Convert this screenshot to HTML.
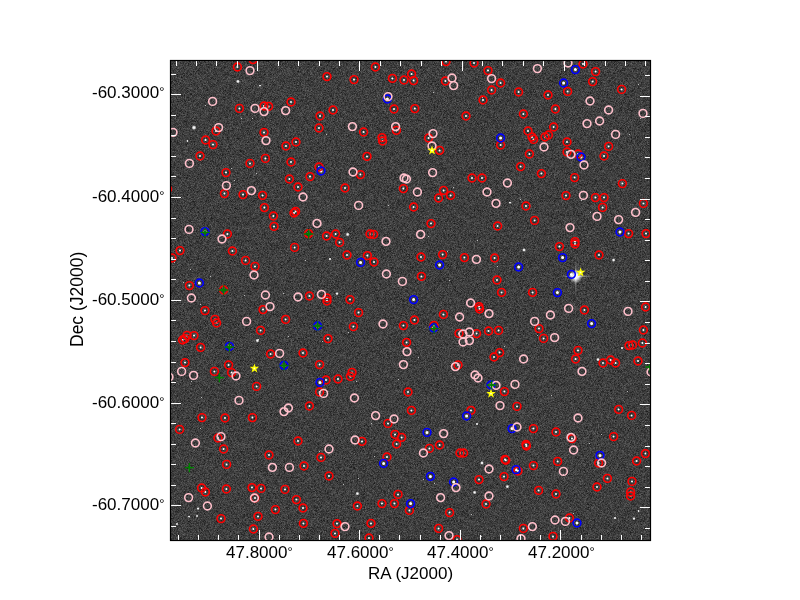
<!DOCTYPE html><html><head><meta charset="utf-8"><style>
html,body{margin:0;padding:0;background:#fff;width:800px;height:600px;overflow:hidden;}
body{position:relative;font-family:"Liberation Sans",sans-serif;color:#000;}
.d{font-size:13px;vertical-align:top;position:relative;top:1px;margin-left:0px}
.t{position:absolute;font-size:17px;line-height:1;white-space:nowrap;will-change:transform;}
svg{position:absolute;left:0;top:0;}
</style></head><body>

<svg width="800" height="600" viewBox="0 0 800 600">
<defs><filter id="nz" x="0" y="0" width="100%" height="100%" color-interpolation-filters="sRGB"><feTurbulence type="fractalNoise" baseFrequency="1.7" numOctaves="2" seed="5"/><feColorMatrix type="matrix" values="0.44 0 0 0 0.025  0.44 0 0 0 0.025  0.44 0 0 0 0.025  0 0 0 0 1"/></filter>
<radialGradient id="gl"><stop offset="0" stop-color="#fff" stop-opacity="1"/><stop offset="0.35" stop-color="#fff" stop-opacity="0.9"/><stop offset="1" stop-color="#fff" stop-opacity="0"/></radialGradient>
<linearGradient id="sh" x1="0" y1="0" x2="1" y2="0"><stop offset="0" stop-color="#fff" stop-opacity="0"/><stop offset="0.5" stop-color="#fff" stop-opacity="0.7"/><stop offset="1" stop-color="#fff" stop-opacity="0"/></linearGradient>
<linearGradient id="sv" x1="0" y1="0" x2="0" y2="1"><stop offset="0" stop-color="#fff" stop-opacity="0"/><stop offset="0.5" stop-color="#fff" stop-opacity="0.7"/><stop offset="1" stop-color="#fff" stop-opacity="0"/></linearGradient>
<clipPath id="cp"><rect x="170" y="60" width="481" height="481"/></clipPath></defs>
<rect x="170" y="60" width="481" height="481" fill="#3a3a3a"/>
<rect x="170" y="60" width="481" height="481" filter="url(#nz)"/>
<g clip-path="url(#cp)">
<rect x="326" y="134" width="1" height="1" fill="#bbb"/><rect x="482" y="97" width="1" height="1" fill="#bbb"/><rect x="428" y="236" width="1" height="1" fill="#bbb"/><rect x="200" y="304" width="1" height="1" fill="#bbb"/><rect x="190" y="269" width="1" height="1" fill="#bbb"/><rect x="205" y="105" width="1" height="1" fill="#bbb"/><rect x="374" y="456" width="1" height="1" fill="#bbb"/><rect x="231" y="168" width="1" height="1" fill="#bbb"/><rect x="471" y="514" width="1" height="1" fill="#bbb"/><rect x="447" y="251" width="1" height="1" fill="#bbb"/><rect x="638" y="84" width="1" height="1" fill="#bbb"/><rect x="581" y="200" width="1" height="1" fill="#bbb"/><rect x="241" y="118" width="1" height="1" fill="#bbb"/><rect x="319" y="451" width="1" height="1" fill="#bbb"/><rect x="258" y="339" width="1" height="1" fill="#bbb"/><rect x="477" y="240" width="1" height="1" fill="#bbb"/><rect x="433" y="92" width="1" height="1" fill="#bbb"/><rect x="200" y="160" width="1" height="1" fill="#bbb"/><rect x="497" y="266" width="1" height="1" fill="#bbb"/><rect x="322" y="341" width="1" height="1" fill="#bbb"/><rect x="388" y="205" width="1" height="1" fill="#bbb"/><rect x="551" y="395" width="1" height="1" fill="#bbb"/><rect x="288" y="336" width="1" height="1" fill="#bbb"/><rect x="423" y="479" width="1" height="1" fill="#bbb"/><rect x="520" y="199" width="1" height="1" fill="#bbb"/><rect x="640" y="118" width="1" height="1" fill="#bbb"/><rect x="371" y="423" width="1" height="1" fill="#bbb"/><rect x="244" y="295" width="1" height="1" fill="#bbb"/><rect x="191" y="381" width="1" height="1" fill="#bbb"/><rect x="537" y="335" width="1" height="1" fill="#bbb"/><rect x="590" y="212" width="1" height="1" fill="#bbb"/><rect x="504" y="346" width="1" height="1" fill="#bbb"/><rect x="449" y="280" width="1" height="1" fill="#bbb"/><rect x="573" y="513" width="1" height="1" fill="#bbb"/><rect x="398" y="379" width="1" height="1" fill="#bbb"/><rect x="201" y="397" width="1" height="1" fill="#bbb"/><rect x="481" y="536" width="1" height="1" fill="#bbb"/><rect x="564" y="198" width="1" height="1" fill="#bbb"/><rect x="356" y="381" width="1" height="1" fill="#bbb"/><rect x="183" y="282" width="1" height="1" fill="#bbb"/><rect x="252" y="118" width="1" height="1" fill="#bbb"/><rect x="200" y="428" width="1" height="1" fill="#bbb"/><rect x="234" y="180" width="1" height="1" fill="#bbb"/><rect x="358" y="478" width="1" height="1" fill="#bbb"/><rect x="210" y="276" width="1" height="1" fill="#bbb"/><rect x="434" y="483" width="1" height="1" fill="#bbb"/><rect x="563" y="474" width="1" height="1" fill="#bbb"/><rect x="305" y="260" width="1" height="1" fill="#bbb"/><rect x="343" y="484" width="1" height="1" fill="#bbb"/><rect x="629" y="134" width="1" height="1" fill="#bbb"/><rect x="256" y="173" width="1" height="1" fill="#bbb"/><rect x="283" y="293" width="1" height="1" fill="#bbb"/><rect x="453" y="187" width="1" height="1" fill="#bbb"/><rect x="174" y="262" width="1" height="1" fill="#bbb"/><rect x="348" y="332" width="1" height="1" fill="#bbb"/><rect x="627" y="391" width="1" height="1" fill="#bbb"/><rect x="418" y="357" width="1" height="1" fill="#bbb"/><rect x="495" y="88" width="1" height="1" fill="#bbb"/><rect x="601" y="434" width="1" height="1" fill="#bbb"/><rect x="589" y="443" width="1" height="1" fill="#bbb"/>
<path d="M236.4 67.0a1.0 1.0 0 1 0 2.0 0a1.0 1.0 0 1 0 -2.0 0 M252.0 59.6a1.0 1.0 0 1 0 2.0 0a1.0 1.0 0 1 0 -2.0 0 M326.0 76.6a1.0 1.0 0 1 0 2.0 0a1.0 1.0 0 1 0 -2.0 0 M238.4 108.4a1.0 1.0 0 1 0 2.0 0a1.0 1.0 0 1 0 -2.0 0 M263.0 106.0a1.0 1.0 0 1 0 2.0 0a1.0 1.0 0 1 0 -2.0 0 M267.6 106.4a1.0 1.0 0 1 0 2.0 0a1.0 1.0 0 1 0 -2.0 0 M290.0 102.0a1.0 1.0 0 1 0 2.0 0a1.0 1.0 0 1 0 -2.0 0 M319.0 116.0a1.0 1.0 0 1 0 2.0 0a1.0 1.0 0 1 0 -2.0 0 M332.0 110.0a1.0 1.0 0 1 0 2.0 0a1.0 1.0 0 1 0 -2.0 0 M318.0 128.0a1.0 1.0 0 1 0 2.0 0a1.0 1.0 0 1 0 -2.0 0 M215.0 131.0a1.0 1.0 0 1 0 2.0 0a1.0 1.0 0 1 0 -2.0 0 M204.6 140.0a1.0 1.0 0 1 0 2.0 0a1.0 1.0 0 1 0 -2.0 0 M212.0 144.6a1.0 1.0 0 1 0 2.0 0a1.0 1.0 0 1 0 -2.0 0 M263.0 132.4a1.0 1.0 0 1 0 2.0 0a1.0 1.0 0 1 0 -2.0 0 M295.0 142.0a1.0 1.0 0 1 0 2.0 0a1.0 1.0 0 1 0 -2.0 0 M285.0 146.0a1.0 1.0 0 1 0 2.0 0a1.0 1.0 0 1 0 -2.0 0 M199.0 156.0a1.0 1.0 0 1 0 2.0 0a1.0 1.0 0 1 0 -2.0 0 M264.4 158.4a1.0 1.0 0 1 0 2.0 0a1.0 1.0 0 1 0 -2.0 0 M249.0 163.4a1.0 1.0 0 1 0 2.0 0a1.0 1.0 0 1 0 -2.0 0 M290.0 162.0a1.0 1.0 0 1 0 2.0 0a1.0 1.0 0 1 0 -2.0 0 M318.0 167.0a1.0 1.0 0 1 0 2.0 0a1.0 1.0 0 1 0 -2.0 0 M225.0 172.6a1.0 1.0 0 1 0 2.0 0a1.0 1.0 0 1 0 -2.0 0 M288.4 179.0a1.0 1.0 0 1 0 2.0 0a1.0 1.0 0 1 0 -2.0 0 M309.0 176.6a1.0 1.0 0 1 0 2.0 0a1.0 1.0 0 1 0 -2.0 0 M319.5 171.0a1.5 1.5 0 1 0 3.0 0a1.5 1.5 0 1 0 -3.0 0 M374.4 67.0a1.0 1.0 0 1 0 2.0 0a1.0 1.0 0 1 0 -2.0 0 M353.0 79.6a1.0 1.0 0 1 0 2.0 0a1.0 1.0 0 1 0 -2.0 0 M391.4 78.4a1.0 1.0 0 1 0 2.0 0a1.0 1.0 0 1 0 -2.0 0 M410.6 74.0a1.0 1.0 0 1 0 2.0 0a1.0 1.0 0 1 0 -2.0 0 M403.0 80.0a1.0 1.0 0 1 0 2.0 0a1.0 1.0 0 1 0 -2.0 0 M412.6 80.6a1.0 1.0 0 1 0 2.0 0a1.0 1.0 0 1 0 -2.0 0 M445.0 61.6a1.0 1.0 0 1 0 2.0 0a1.0 1.0 0 1 0 -2.0 0 M444.4 81.0a1.0 1.0 0 1 0 2.0 0a1.0 1.0 0 1 0 -2.0 0 M473.0 63.0a1.0 1.0 0 1 0 2.0 0a1.0 1.0 0 1 0 -2.0 0 M487.0 70.6a1.0 1.0 0 1 0 2.0 0a1.0 1.0 0 1 0 -2.0 0 M482.0 100.0a1.0 1.0 0 1 0 2.0 0a1.0 1.0 0 1 0 -2.0 0 M393.0 109.0a1.0 1.0 0 1 0 2.0 0a1.0 1.0 0 1 0 -2.0 0 M413.8 108.6a1.0 1.0 0 1 0 2.0 0a1.0 1.0 0 1 0 -2.0 0 M465.0 116.0a1.0 1.0 0 1 0 2.0 0a1.0 1.0 0 1 0 -2.0 0 M362.6 132.0a1.0 1.0 0 1 0 2.0 0a1.0 1.0 0 1 0 -2.0 0 M381.0 137.6a1.0 1.0 0 1 0 2.0 0a1.0 1.0 0 1 0 -2.0 0 M381.6 141.0a1.0 1.0 0 1 0 2.0 0a1.0 1.0 0 1 0 -2.0 0 M395.4 130.4a1.0 1.0 0 1 0 2.0 0a1.0 1.0 0 1 0 -2.0 0 M427.6 138.0a1.0 1.0 0 1 0 2.0 0a1.0 1.0 0 1 0 -2.0 0 M438.6 150.4a1.0 1.0 0 1 0 2.0 0a1.0 1.0 0 1 0 -2.0 0 M366.0 156.4a1.0 1.0 0 1 0 2.0 0a1.0 1.0 0 1 0 -2.0 0 M359.4 174.6a1.0 1.0 0 1 0 2.0 0a1.0 1.0 0 1 0 -2.0 0 M471.0 178.0a1.0 1.0 0 1 0 2.0 0a1.0 1.0 0 1 0 -2.0 0 M481.0 178.0a1.0 1.0 0 1 0 2.0 0a1.0 1.0 0 1 0 -2.0 0 M385.9 99.0a1.5 1.5 0 1 0 3.0 0a1.5 1.5 0 1 0 -3.0 0 M499.6 83.0a1.0 1.0 0 1 0 2.0 0a1.0 1.0 0 1 0 -2.0 0 M490.6 90.0a1.0 1.0 0 1 0 2.0 0a1.0 1.0 0 1 0 -2.0 0 M517.6 92.0a1.0 1.0 0 1 0 2.0 0a1.0 1.0 0 1 0 -2.0 0 M547.0 95.0a1.0 1.0 0 1 0 2.0 0a1.0 1.0 0 1 0 -2.0 0 M566.6 91.4a1.0 1.0 0 1 0 2.0 0a1.0 1.0 0 1 0 -2.0 0 M582.0 64.0a1.0 1.0 0 1 0 2.0 0a1.0 1.0 0 1 0 -2.0 0 M594.6 71.6a1.0 1.0 0 1 0 2.0 0a1.0 1.0 0 1 0 -2.0 0 M591.6 81.6a1.0 1.0 0 1 0 2.0 0a1.0 1.0 0 1 0 -2.0 0 M620.6 89.4a1.0 1.0 0 1 0 2.0 0a1.0 1.0 0 1 0 -2.0 0 M554.4 109.0a1.0 1.0 0 1 0 2.0 0a1.0 1.0 0 1 0 -2.0 0 M522.4 114.0a1.0 1.0 0 1 0 2.0 0a1.0 1.0 0 1 0 -2.0 0 M552.6 127.0a1.0 1.0 0 1 0 2.0 0a1.0 1.0 0 1 0 -2.0 0 M527.0 131.0a1.0 1.0 0 1 0 2.0 0a1.0 1.0 0 1 0 -2.0 0 M531.0 137.0a1.0 1.0 0 1 0 2.0 0a1.0 1.0 0 1 0 -2.0 0 M532.6 139.4a1.0 1.0 0 1 0 2.0 0a1.0 1.0 0 1 0 -2.0 0 M544.0 137.0a1.0 1.0 0 1 0 2.0 0a1.0 1.0 0 1 0 -2.0 0 M547.4 135.0a1.0 1.0 0 1 0 2.0 0a1.0 1.0 0 1 0 -2.0 0 M566.0 142.0a1.0 1.0 0 1 0 2.0 0a1.0 1.0 0 1 0 -2.0 0 M499.6 145.0a1.0 1.0 0 1 0 2.0 0a1.0 1.0 0 1 0 -2.0 0 M607.6 146.4a1.0 1.0 0 1 0 2.0 0a1.0 1.0 0 1 0 -2.0 0 M528.4 154.0a1.0 1.0 0 1 0 2.0 0a1.0 1.0 0 1 0 -2.0 0 M566.0 152.0a1.0 1.0 0 1 0 2.0 0a1.0 1.0 0 1 0 -2.0 0 M577.0 154.0a1.0 1.0 0 1 0 2.0 0a1.0 1.0 0 1 0 -2.0 0 M603.0 156.0a1.0 1.0 0 1 0 2.0 0a1.0 1.0 0 1 0 -2.0 0 M519.6 166.6a1.0 1.0 0 1 0 2.0 0a1.0 1.0 0 1 0 -2.0 0 M540.4 173.6a1.0 1.0 0 1 0 2.0 0a1.0 1.0 0 1 0 -2.0 0 M573.6 177.6a1.0 1.0 0 1 0 2.0 0a1.0 1.0 0 1 0 -2.0 0 M573.9 69.6a1.5 1.5 0 1 0 3.0 0a1.5 1.5 0 1 0 -3.0 0 M562.1 83.0a1.5 1.5 0 1 0 3.0 0a1.5 1.5 0 1 0 -3.0 0 M499.1 138.0a1.5 1.5 0 1 0 3.0 0a1.5 1.5 0 1 0 -3.0 0 M579.5 157.0a1.5 1.5 0 1 0 3.0 0a1.5 1.5 0 1 0 -3.0 0 M223.4 193.6a1.0 1.0 0 1 0 2.0 0a1.0 1.0 0 1 0 -2.0 0 M242.0 194.6a1.0 1.0 0 1 0 2.0 0a1.0 1.0 0 1 0 -2.0 0 M261.6 195.4a1.0 1.0 0 1 0 2.0 0a1.0 1.0 0 1 0 -2.0 0 M297.0 187.0a1.0 1.0 0 1 0 2.0 0a1.0 1.0 0 1 0 -2.0 0 M263.4 207.6a1.0 1.0 0 1 0 2.0 0a1.0 1.0 0 1 0 -2.0 0 M272.4 216.0a1.0 1.0 0 1 0 2.0 0a1.0 1.0 0 1 0 -2.0 0 M273.0 226.4a1.0 1.0 0 1 0 2.0 0a1.0 1.0 0 1 0 -2.0 0 M293.0 213.0a1.0 1.0 0 1 0 2.0 0a1.0 1.0 0 1 0 -2.0 0 M294.6 211.4a1.0 1.0 0 1 0 2.0 0a1.0 1.0 0 1 0 -2.0 0 M226.4 234.0a1.0 1.0 0 1 0 2.0 0a1.0 1.0 0 1 0 -2.0 0 M307.6 233.6a1.0 1.0 0 1 0 2.0 0a1.0 1.0 0 1 0 -2.0 0 M325.6 236.0a1.0 1.0 0 1 0 2.0 0a1.0 1.0 0 1 0 -2.0 0 M179.0 250.6a1.0 1.0 0 1 0 2.0 0a1.0 1.0 0 1 0 -2.0 0 M171.0 258.0a1.0 1.0 0 1 0 2.0 0a1.0 1.0 0 1 0 -2.0 0 M231.4 251.0a1.0 1.0 0 1 0 2.0 0a1.0 1.0 0 1 0 -2.0 0 M293.6 247.4a1.0 1.0 0 1 0 2.0 0a1.0 1.0 0 1 0 -2.0 0 M244.6 260.4a1.0 1.0 0 1 0 2.0 0a1.0 1.0 0 1 0 -2.0 0 M254.0 266.4a1.0 1.0 0 1 0 2.0 0a1.0 1.0 0 1 0 -2.0 0 M188.4 285.6a1.0 1.0 0 1 0 2.0 0a1.0 1.0 0 1 0 -2.0 0 M222.6 290.0a1.0 1.0 0 1 0 2.0 0a1.0 1.0 0 1 0 -2.0 0 M308.4 296.0a1.0 1.0 0 1 0 2.0 0a1.0 1.0 0 1 0 -2.0 0 M326.0 298.0a1.0 1.0 0 1 0 2.0 0a1.0 1.0 0 1 0 -2.0 0 M166.6 189.0a1.0 1.0 0 1 0 2.0 0a1.0 1.0 0 1 0 -2.0 0 M203.5 231.6a1.5 1.5 0 1 0 3.0 0a1.5 1.5 0 1 0 -3.0 0 M197.9 283.0a1.5 1.5 0 1 0 3.0 0a1.5 1.5 0 1 0 -3.0 0 M344.0 188.0a1.0 1.0 0 1 0 2.0 0a1.0 1.0 0 1 0 -2.0 0 M402.4 188.6a1.0 1.0 0 1 0 2.0 0a1.0 1.0 0 1 0 -2.0 0 M442.6 190.4a1.0 1.0 0 1 0 2.0 0a1.0 1.0 0 1 0 -2.0 0 M449.6 195.4a1.0 1.0 0 1 0 2.0 0a1.0 1.0 0 1 0 -2.0 0 M437.6 198.0a1.0 1.0 0 1 0 2.0 0a1.0 1.0 0 1 0 -2.0 0 M412.6 207.0a1.0 1.0 0 1 0 2.0 0a1.0 1.0 0 1 0 -2.0 0 M430.0 223.6a1.0 1.0 0 1 0 2.0 0a1.0 1.0 0 1 0 -2.0 0 M334.6 234.0a1.0 1.0 0 1 0 2.0 0a1.0 1.0 0 1 0 -2.0 0 M369.0 234.0a1.0 1.0 0 1 0 2.0 0a1.0 1.0 0 1 0 -2.0 0 M372.6 234.4a1.0 1.0 0 1 0 2.0 0a1.0 1.0 0 1 0 -2.0 0 M338.6 242.4a1.0 1.0 0 1 0 2.0 0a1.0 1.0 0 1 0 -2.0 0 M346.0 255.0a1.0 1.0 0 1 0 2.0 0a1.0 1.0 0 1 0 -2.0 0 M366.4 255.6a1.0 1.0 0 1 0 2.0 0a1.0 1.0 0 1 0 -2.0 0 M373.0 262.0a1.0 1.0 0 1 0 2.0 0a1.0 1.0 0 1 0 -2.0 0 M420.0 257.0a1.0 1.0 0 1 0 2.0 0a1.0 1.0 0 1 0 -2.0 0 M441.6 254.6a1.0 1.0 0 1 0 2.0 0a1.0 1.0 0 1 0 -2.0 0 M463.4 257.6a1.0 1.0 0 1 0 2.0 0a1.0 1.0 0 1 0 -2.0 0 M420.4 276.4a1.0 1.0 0 1 0 2.0 0a1.0 1.0 0 1 0 -2.0 0 M349.0 299.6a1.0 1.0 0 1 0 2.0 0a1.0 1.0 0 1 0 -2.0 0 M359.1 262.4a1.5 1.5 0 1 0 3.0 0a1.5 1.5 0 1 0 -3.0 0 M438.1 265.0a1.5 1.5 0 1 0 3.0 0a1.5 1.5 0 1 0 -3.0 0 M412.1 299.6a1.5 1.5 0 1 0 3.0 0a1.5 1.5 0 1 0 -3.0 0 M621.4 183.6a1.0 1.0 0 1 0 2.0 0a1.0 1.0 0 1 0 -2.0 0 M565.0 195.6a1.0 1.0 0 1 0 2.0 0a1.0 1.0 0 1 0 -2.0 0 M594.4 197.6a1.0 1.0 0 1 0 2.0 0a1.0 1.0 0 1 0 -2.0 0 M603.0 197.6a1.0 1.0 0 1 0 2.0 0a1.0 1.0 0 1 0 -2.0 0 M601.6 207.4a1.0 1.0 0 1 0 2.0 0a1.0 1.0 0 1 0 -2.0 0 M642.4 203.4a1.0 1.0 0 1 0 2.0 0a1.0 1.0 0 1 0 -2.0 0 M525.0 206.0a1.0 1.0 0 1 0 2.0 0a1.0 1.0 0 1 0 -2.0 0 M533.6 220.4a1.0 1.0 0 1 0 2.0 0a1.0 1.0 0 1 0 -2.0 0 M496.6 226.0a1.0 1.0 0 1 0 2.0 0a1.0 1.0 0 1 0 -2.0 0 M627.6 233.6a1.0 1.0 0 1 0 2.0 0a1.0 1.0 0 1 0 -2.0 0 M645.0 233.6a1.0 1.0 0 1 0 2.0 0a1.0 1.0 0 1 0 -2.0 0 M574.0 241.6a1.0 1.0 0 1 0 2.0 0a1.0 1.0 0 1 0 -2.0 0 M574.0 244.0a1.0 1.0 0 1 0 2.0 0a1.0 1.0 0 1 0 -2.0 0 M558.4 246.6a1.0 1.0 0 1 0 2.0 0a1.0 1.0 0 1 0 -2.0 0 M598.0 255.0a1.0 1.0 0 1 0 2.0 0a1.0 1.0 0 1 0 -2.0 0 M493.6 258.0a1.0 1.0 0 1 0 2.0 0a1.0 1.0 0 1 0 -2.0 0 M496.0 280.0a1.0 1.0 0 1 0 2.0 0a1.0 1.0 0 1 0 -2.0 0 M500.6 292.4a1.0 1.0 0 1 0 2.0 0a1.0 1.0 0 1 0 -2.0 0 M531.6 292.4a1.0 1.0 0 1 0 2.0 0a1.0 1.0 0 1 0 -2.0 0 M618.5 232.0a1.5 1.5 0 1 0 3.0 0a1.5 1.5 0 1 0 -3.0 0 M561.1 257.6a1.5 1.5 0 1 0 3.0 0a1.5 1.5 0 1 0 -3.0 0 M517.1 267.0a1.5 1.5 0 1 0 3.0 0a1.5 1.5 0 1 0 -3.0 0 M569.9 274.4a1.5 1.5 0 1 0 3.0 0a1.5 1.5 0 1 0 -3.0 0 M555.9 292.6a1.5 1.5 0 1 0 3.0 0a1.5 1.5 0 1 0 -3.0 0 M204.0 310.6a1.0 1.0 0 1 0 2.0 0a1.0 1.0 0 1 0 -2.0 0 M214.0 319.4a1.0 1.0 0 1 0 2.0 0a1.0 1.0 0 1 0 -2.0 0 M215.6 323.0a1.0 1.0 0 1 0 2.0 0a1.0 1.0 0 1 0 -2.0 0 M262.0 309.6a1.0 1.0 0 1 0 2.0 0a1.0 1.0 0 1 0 -2.0 0 M284.6 319.4a1.0 1.0 0 1 0 2.0 0a1.0 1.0 0 1 0 -2.0 0 M259.6 330.4a1.0 1.0 0 1 0 2.0 0a1.0 1.0 0 1 0 -2.0 0 M193.0 335.6a1.0 1.0 0 1 0 2.0 0a1.0 1.0 0 1 0 -2.0 0 M186.0 335.4a1.0 1.0 0 1 0 2.0 0a1.0 1.0 0 1 0 -2.0 0 M184.0 338.6a1.0 1.0 0 1 0 2.0 0a1.0 1.0 0 1 0 -2.0 0 M181.6 340.0a1.0 1.0 0 1 0 2.0 0a1.0 1.0 0 1 0 -2.0 0 M199.6 347.4a1.0 1.0 0 1 0 2.0 0a1.0 1.0 0 1 0 -2.0 0 M327.0 338.6a1.0 1.0 0 1 0 2.0 0a1.0 1.0 0 1 0 -2.0 0 M269.6 354.0a1.0 1.0 0 1 0 2.0 0a1.0 1.0 0 1 0 -2.0 0 M302.0 353.0a1.0 1.0 0 1 0 2.0 0a1.0 1.0 0 1 0 -2.0 0 M184.0 362.6a1.0 1.0 0 1 0 2.0 0a1.0 1.0 0 1 0 -2.0 0 M227.6 365.0a1.0 1.0 0 1 0 2.0 0a1.0 1.0 0 1 0 -2.0 0 M213.4 371.4a1.0 1.0 0 1 0 2.0 0a1.0 1.0 0 1 0 -2.0 0 M230.6 372.6a1.0 1.0 0 1 0 2.0 0a1.0 1.0 0 1 0 -2.0 0 M318.6 364.6a1.0 1.0 0 1 0 2.0 0a1.0 1.0 0 1 0 -2.0 0 M325.0 380.0a1.0 1.0 0 1 0 2.0 0a1.0 1.0 0 1 0 -2.0 0 M255.6 386.4a1.0 1.0 0 1 0 2.0 0a1.0 1.0 0 1 0 -2.0 0 M318.6 392.0a1.0 1.0 0 1 0 2.0 0a1.0 1.0 0 1 0 -2.0 0 M308.4 406.0a1.0 1.0 0 1 0 2.0 0a1.0 1.0 0 1 0 -2.0 0 M201.0 417.6a1.0 1.0 0 1 0 2.0 0a1.0 1.0 0 1 0 -2.0 0 M224.0 418.0a1.0 1.0 0 1 0 2.0 0a1.0 1.0 0 1 0 -2.0 0 M251.4 417.6a1.0 1.0 0 1 0 2.0 0a1.0 1.0 0 1 0 -2.0 0 M326.0 301.0a1.0 1.0 0 1 0 2.0 0a1.0 1.0 0 1 0 -2.0 0 M227.9 346.4a1.5 1.5 0 1 0 3.0 0a1.5 1.5 0 1 0 -3.0 0 M282.5 365.4a1.5 1.5 0 1 0 3.0 0a1.5 1.5 0 1 0 -3.0 0 M316.1 326.0a1.5 1.5 0 1 0 3.0 0a1.5 1.5 0 1 0 -3.0 0 M318.5 382.4a1.5 1.5 0 1 0 3.0 0a1.5 1.5 0 1 0 -3.0 0 M357.6 312.6a1.0 1.0 0 1 0 2.0 0a1.0 1.0 0 1 0 -2.0 0 M352.4 326.6a1.0 1.0 0 1 0 2.0 0a1.0 1.0 0 1 0 -2.0 0 M402.4 325.6a1.0 1.0 0 1 0 2.0 0a1.0 1.0 0 1 0 -2.0 0 M413.4 320.0a1.0 1.0 0 1 0 2.0 0a1.0 1.0 0 1 0 -2.0 0 M442.4 314.4a1.0 1.0 0 1 0 2.0 0a1.0 1.0 0 1 0 -2.0 0 M433.0 325.4a1.0 1.0 0 1 0 2.0 0a1.0 1.0 0 1 0 -2.0 0 M478.0 306.6a1.0 1.0 0 1 0 2.0 0a1.0 1.0 0 1 0 -2.0 0 M478.6 309.0a1.0 1.0 0 1 0 2.0 0a1.0 1.0 0 1 0 -2.0 0 M475.6 333.6a1.0 1.0 0 1 0 2.0 0a1.0 1.0 0 1 0 -2.0 0 M487.6 331.0a1.0 1.0 0 1 0 2.0 0a1.0 1.0 0 1 0 -2.0 0 M458.0 333.4a1.0 1.0 0 1 0 2.0 0a1.0 1.0 0 1 0 -2.0 0 M405.6 342.4a1.0 1.0 0 1 0 2.0 0a1.0 1.0 0 1 0 -2.0 0 M457.0 365.0a1.0 1.0 0 1 0 2.0 0a1.0 1.0 0 1 0 -2.0 0 M351.0 372.4a1.0 1.0 0 1 0 2.0 0a1.0 1.0 0 1 0 -2.0 0 M349.4 376.4a1.0 1.0 0 1 0 2.0 0a1.0 1.0 0 1 0 -2.0 0 M337.0 379.0a1.0 1.0 0 1 0 2.0 0a1.0 1.0 0 1 0 -2.0 0 M407.0 392.0a1.0 1.0 0 1 0 2.0 0a1.0 1.0 0 1 0 -2.0 0 M410.4 410.4a1.0 1.0 0 1 0 2.0 0a1.0 1.0 0 1 0 -2.0 0 M470.0 410.4a1.0 1.0 0 1 0 2.0 0a1.0 1.0 0 1 0 -2.0 0 M432.1 328.0a1.5 1.5 0 1 0 3.0 0a1.5 1.5 0 1 0 -3.0 0 M465.1 416.0a1.5 1.5 0 1 0 3.0 0a1.5 1.5 0 1 0 -3.0 0 M583.4 310.0a1.0 1.0 0 1 0 2.0 0a1.0 1.0 0 1 0 -2.0 0 M644.6 307.0a1.0 1.0 0 1 0 2.0 0a1.0 1.0 0 1 0 -2.0 0 M497.6 330.4a1.0 1.0 0 1 0 2.0 0a1.0 1.0 0 1 0 -2.0 0 M538.0 328.6a1.0 1.0 0 1 0 2.0 0a1.0 1.0 0 1 0 -2.0 0 M542.6 338.4a1.0 1.0 0 1 0 2.0 0a1.0 1.0 0 1 0 -2.0 0 M642.4 330.0a1.0 1.0 0 1 0 2.0 0a1.0 1.0 0 1 0 -2.0 0 M628.0 345.6a1.0 1.0 0 1 0 2.0 0a1.0 1.0 0 1 0 -2.0 0 M631.6 345.0a1.0 1.0 0 1 0 2.0 0a1.0 1.0 0 1 0 -2.0 0 M641.4 343.0a1.0 1.0 0 1 0 2.0 0a1.0 1.0 0 1 0 -2.0 0 M498.6 352.6a1.0 1.0 0 1 0 2.0 0a1.0 1.0 0 1 0 -2.0 0 M493.0 357.0a1.0 1.0 0 1 0 2.0 0a1.0 1.0 0 1 0 -2.0 0 M577.0 350.4a1.0 1.0 0 1 0 2.0 0a1.0 1.0 0 1 0 -2.0 0 M574.6 359.0a1.0 1.0 0 1 0 2.0 0a1.0 1.0 0 1 0 -2.0 0 M602.0 363.0a1.0 1.0 0 1 0 2.0 0a1.0 1.0 0 1 0 -2.0 0 M609.6 360.0a1.0 1.0 0 1 0 2.0 0a1.0 1.0 0 1 0 -2.0 0 M614.6 363.0a1.0 1.0 0 1 0 2.0 0a1.0 1.0 0 1 0 -2.0 0 M637.0 361.0a1.0 1.0 0 1 0 2.0 0a1.0 1.0 0 1 0 -2.0 0 M503.4 391.6a1.0 1.0 0 1 0 2.0 0a1.0 1.0 0 1 0 -2.0 0 M516.0 406.4a1.0 1.0 0 1 0 2.0 0a1.0 1.0 0 1 0 -2.0 0 M617.6 409.4a1.0 1.0 0 1 0 2.0 0a1.0 1.0 0 1 0 -2.0 0 M630.6 415.4a1.0 1.0 0 1 0 2.0 0a1.0 1.0 0 1 0 -2.0 0 M590.1 323.6a1.5 1.5 0 1 0 3.0 0a1.5 1.5 0 1 0 -3.0 0 M489.5 385.0a1.5 1.5 0 1 0 3.0 0a1.5 1.5 0 1 0 -3.0 0 M178.6 429.4a1.0 1.0 0 1 0 2.0 0a1.0 1.0 0 1 0 -2.0 0 M217.0 438.0a1.0 1.0 0 1 0 2.0 0a1.0 1.0 0 1 0 -2.0 0 M222.6 449.0a1.0 1.0 0 1 0 2.0 0a1.0 1.0 0 1 0 -2.0 0 M297.0 441.0a1.0 1.0 0 1 0 2.0 0a1.0 1.0 0 1 0 -2.0 0 M268.0 455.0a1.0 1.0 0 1 0 2.0 0a1.0 1.0 0 1 0 -2.0 0 M320.0 457.4a1.0 1.0 0 1 0 2.0 0a1.0 1.0 0 1 0 -2.0 0 M225.6 464.4a1.0 1.0 0 1 0 2.0 0a1.0 1.0 0 1 0 -2.0 0 M303.0 466.0a1.0 1.0 0 1 0 2.0 0a1.0 1.0 0 1 0 -2.0 0 M328.0 476.0a1.0 1.0 0 1 0 2.0 0a1.0 1.0 0 1 0 -2.0 0 M200.6 488.0a1.0 1.0 0 1 0 2.0 0a1.0 1.0 0 1 0 -2.0 0 M204.4 492.0a1.0 1.0 0 1 0 2.0 0a1.0 1.0 0 1 0 -2.0 0 M225.4 489.0a1.0 1.0 0 1 0 2.0 0a1.0 1.0 0 1 0 -2.0 0 M251.0 487.6a1.0 1.0 0 1 0 2.0 0a1.0 1.0 0 1 0 -2.0 0 M260.0 488.4a1.0 1.0 0 1 0 2.0 0a1.0 1.0 0 1 0 -2.0 0 M284.0 489.4a1.0 1.0 0 1 0 2.0 0a1.0 1.0 0 1 0 -2.0 0 M254.0 498.0a1.0 1.0 0 1 0 2.0 0a1.0 1.0 0 1 0 -2.0 0 M295.4 499.6a1.0 1.0 0 1 0 2.0 0a1.0 1.0 0 1 0 -2.0 0 M302.0 508.0a1.0 1.0 0 1 0 2.0 0a1.0 1.0 0 1 0 -2.0 0 M274.4 509.6a1.0 1.0 0 1 0 2.0 0a1.0 1.0 0 1 0 -2.0 0 M257.0 516.4a1.0 1.0 0 1 0 2.0 0a1.0 1.0 0 1 0 -2.0 0 M220.0 518.6a1.0 1.0 0 1 0 2.0 0a1.0 1.0 0 1 0 -2.0 0 M302.4 523.4a1.0 1.0 0 1 0 2.0 0a1.0 1.0 0 1 0 -2.0 0 M252.4 529.0a1.0 1.0 0 1 0 2.0 0a1.0 1.0 0 1 0 -2.0 0 M387.0 423.4a1.0 1.0 0 1 0 2.0 0a1.0 1.0 0 1 0 -2.0 0 M394.0 434.4a1.0 1.0 0 1 0 2.0 0a1.0 1.0 0 1 0 -2.0 0 M400.6 437.4a1.0 1.0 0 1 0 2.0 0a1.0 1.0 0 1 0 -2.0 0 M395.6 444.0a1.0 1.0 0 1 0 2.0 0a1.0 1.0 0 1 0 -2.0 0 M361.0 441.4a1.0 1.0 0 1 0 2.0 0a1.0 1.0 0 1 0 -2.0 0 M428.4 448.4a1.0 1.0 0 1 0 2.0 0a1.0 1.0 0 1 0 -2.0 0 M438.6 445.0a1.0 1.0 0 1 0 2.0 0a1.0 1.0 0 1 0 -2.0 0 M459.0 453.0a1.0 1.0 0 1 0 2.0 0a1.0 1.0 0 1 0 -2.0 0 M462.6 453.0a1.0 1.0 0 1 0 2.0 0a1.0 1.0 0 1 0 -2.0 0 M386.0 457.0a1.0 1.0 0 1 0 2.0 0a1.0 1.0 0 1 0 -2.0 0 M478.0 479.6a1.0 1.0 0 1 0 2.0 0a1.0 1.0 0 1 0 -2.0 0 M397.0 494.4a1.0 1.0 0 1 0 2.0 0a1.0 1.0 0 1 0 -2.0 0 M381.0 503.6a1.0 1.0 0 1 0 2.0 0a1.0 1.0 0 1 0 -2.0 0 M393.4 503.6a1.0 1.0 0 1 0 2.0 0a1.0 1.0 0 1 0 -2.0 0 M356.4 506.0a1.0 1.0 0 1 0 2.0 0a1.0 1.0 0 1 0 -2.0 0 M408.4 510.4a1.0 1.0 0 1 0 2.0 0a1.0 1.0 0 1 0 -2.0 0 M448.6 512.6a1.0 1.0 0 1 0 2.0 0a1.0 1.0 0 1 0 -2.0 0 M485.0 504.0a1.0 1.0 0 1 0 2.0 0a1.0 1.0 0 1 0 -2.0 0 M336.0 523.6a1.0 1.0 0 1 0 2.0 0a1.0 1.0 0 1 0 -2.0 0 M370.0 523.4a1.0 1.0 0 1 0 2.0 0a1.0 1.0 0 1 0 -2.0 0 M334.0 533.4a1.0 1.0 0 1 0 2.0 0a1.0 1.0 0 1 0 -2.0 0 M437.6 528.4a1.0 1.0 0 1 0 2.0 0a1.0 1.0 0 1 0 -2.0 0 M368.0 538.0a1.0 1.0 0 1 0 2.0 0a1.0 1.0 0 1 0 -2.0 0 M456.0 539.6a1.0 1.0 0 1 0 2.0 0a1.0 1.0 0 1 0 -2.0 0 M425.5 432.4a1.5 1.5 0 1 0 3.0 0a1.5 1.5 0 1 0 -3.0 0 M382.1 463.4a1.5 1.5 0 1 0 3.0 0a1.5 1.5 0 1 0 -3.0 0 M428.9 476.4a1.5 1.5 0 1 0 3.0 0a1.5 1.5 0 1 0 -3.0 0 M452.1 482.0a1.5 1.5 0 1 0 3.0 0a1.5 1.5 0 1 0 -3.0 0 M409.1 503.6a1.5 1.5 0 1 0 3.0 0a1.5 1.5 0 1 0 -3.0 0 M532.4 428.6a1.0 1.0 0 1 0 2.0 0a1.0 1.0 0 1 0 -2.0 0 M555.0 432.0a1.0 1.0 0 1 0 2.0 0a1.0 1.0 0 1 0 -2.0 0 M571.0 438.6a1.0 1.0 0 1 0 2.0 0a1.0 1.0 0 1 0 -2.0 0 M612.6 436.6a1.0 1.0 0 1 0 2.0 0a1.0 1.0 0 1 0 -2.0 0 M525.0 444.4a1.0 1.0 0 1 0 2.0 0a1.0 1.0 0 1 0 -2.0 0 M525.4 446.0a1.0 1.0 0 1 0 2.0 0a1.0 1.0 0 1 0 -2.0 0 M504.0 459.4a1.0 1.0 0 1 0 2.0 0a1.0 1.0 0 1 0 -2.0 0 M504.8 460.2a1.0 1.0 0 1 0 2.0 0a1.0 1.0 0 1 0 -2.0 0 M532.4 465.6a1.0 1.0 0 1 0 2.0 0a1.0 1.0 0 1 0 -2.0 0 M556.6 461.4a1.0 1.0 0 1 0 2.0 0a1.0 1.0 0 1 0 -2.0 0 M597.6 463.0a1.0 1.0 0 1 0 2.0 0a1.0 1.0 0 1 0 -2.0 0 M635.6 461.0a1.0 1.0 0 1 0 2.0 0a1.0 1.0 0 1 0 -2.0 0 M644.4 453.6a1.0 1.0 0 1 0 2.0 0a1.0 1.0 0 1 0 -2.0 0 M517.0 471.0a1.0 1.0 0 1 0 2.0 0a1.0 1.0 0 1 0 -2.0 0 M503.0 476.6a1.0 1.0 0 1 0 2.0 0a1.0 1.0 0 1 0 -2.0 0 M606.4 478.4a1.0 1.0 0 1 0 2.0 0a1.0 1.0 0 1 0 -2.0 0 M596.0 487.0a1.0 1.0 0 1 0 2.0 0a1.0 1.0 0 1 0 -2.0 0 M631.0 481.4a1.0 1.0 0 1 0 2.0 0a1.0 1.0 0 1 0 -2.0 0 M537.6 490.4a1.0 1.0 0 1 0 2.0 0a1.0 1.0 0 1 0 -2.0 0 M555.0 494.0a1.0 1.0 0 1 0 2.0 0a1.0 1.0 0 1 0 -2.0 0 M629.6 492.0a1.0 1.0 0 1 0 2.0 0a1.0 1.0 0 1 0 -2.0 0 M629.6 496.0a1.0 1.0 0 1 0 2.0 0a1.0 1.0 0 1 0 -2.0 0 M568.4 518.0a1.0 1.0 0 1 0 2.0 0a1.0 1.0 0 1 0 -2.0 0 M522.4 528.4a1.0 1.0 0 1 0 2.0 0a1.0 1.0 0 1 0 -2.0 0 M552.0 536.4a1.0 1.0 0 1 0 2.0 0a1.0 1.0 0 1 0 -2.0 0 M510.5 428.6a1.5 1.5 0 1 0 3.0 0a1.5 1.5 0 1 0 -3.0 0 M514.5 469.6a1.5 1.5 0 1 0 3.0 0a1.5 1.5 0 1 0 -3.0 0 M598.5 455.4a1.5 1.5 0 1 0 3.0 0a1.5 1.5 0 1 0 -3.0 0 M575.5 523.0a1.5 1.5 0 1 0 3.0 0a1.5 1.5 0 1 0 -3.0 0" fill="#fff"/>
<circle cx="238" cy="81.4" r="2.1" fill="url(#gl)"/>
<circle cx="194" cy="127.6" r="2.6" fill="url(#gl)"/>
<circle cx="260" cy="85.6" r="1.3" fill="url(#gl)"/>
<circle cx="187.4" cy="141" r="1.3" fill="url(#gl)"/>
<circle cx="347.6" cy="234.4" r="2.1" fill="url(#gl)"/>
<circle cx="337" cy="293.6" r="1.7" fill="url(#gl)"/>
<circle cx="330" cy="259" r="1.6" fill="url(#gl)"/>
<circle cx="524" cy="250" r="2.0" fill="url(#gl)"/>
<circle cx="613.6" cy="260" r="2.0" fill="url(#gl)"/>
<circle cx="510" cy="202.6" r="1.4" fill="url(#gl)"/>
<circle cx="257.4" cy="340.6" r="2.1" fill="url(#gl)"/>
<circle cx="598" cy="359.6" r="2.0" fill="url(#gl)"/>
<circle cx="622" cy="348" r="1.6" fill="url(#gl)"/>
<circle cx="357.4" cy="493.6" r="2.0" fill="url(#gl)"/>
<circle cx="474.6" cy="492.4" r="2.0" fill="url(#gl)"/>
<circle cx="482" cy="463" r="2.0" fill="url(#gl)"/>
<circle cx="477" cy="424" r="1.6" fill="url(#gl)"/>
<circle cx="507.4" cy="486.6" r="2.0" fill="url(#gl)"/>
<circle cx="615" cy="518" r="1.6" fill="url(#gl)"/>
<circle cx="634" cy="518.6" r="1.7" fill="url(#gl)"/>
<circle cx="638.6" cy="511" r="1.3" fill="url(#gl)"/>
<circle cx="198" cy="508.6" r="1.6" fill="url(#gl)"/>
<circle cx="197" cy="516" r="1.3" fill="url(#gl)"/>
<circle cx="189" cy="516.6" r="1.3" fill="url(#gl)"/>
<circle cx="177" cy="524" r="1.3" fill="url(#gl)"/>
<rect x="558.8" y="275.7" width="34" height="1.2" fill="url(#sh)"/>
<rect x="575.1999999999999" y="260.3" width="1.2" height="32" fill="url(#sv)"/>
<circle cx="575.8" cy="276.3" r="7" fill="url(#gl)"/>
<path d="M233.5 67.0a3.9 3.9 0 1 0 7.8 0a3.9 3.9 0 1 0 -7.8 0 M249.1 59.6a3.9 3.9 0 1 0 7.8 0a3.9 3.9 0 1 0 -7.8 0 M323.1 76.6a3.9 3.9 0 1 0 7.8 0a3.9 3.9 0 1 0 -7.8 0 M235.5 108.4a3.9 3.9 0 1 0 7.8 0a3.9 3.9 0 1 0 -7.8 0 M260.1 106.0a3.9 3.9 0 1 0 7.8 0a3.9 3.9 0 1 0 -7.8 0 M264.7 106.4a3.9 3.9 0 1 0 7.8 0a3.9 3.9 0 1 0 -7.8 0 M287.1 102.0a3.9 3.9 0 1 0 7.8 0a3.9 3.9 0 1 0 -7.8 0 M316.1 116.0a3.9 3.9 0 1 0 7.8 0a3.9 3.9 0 1 0 -7.8 0 M329.1 110.0a3.9 3.9 0 1 0 7.8 0a3.9 3.9 0 1 0 -7.8 0 M315.1 128.0a3.9 3.9 0 1 0 7.8 0a3.9 3.9 0 1 0 -7.8 0 M212.1 131.0a3.9 3.9 0 1 0 7.8 0a3.9 3.9 0 1 0 -7.8 0 M201.7 140.0a3.9 3.9 0 1 0 7.8 0a3.9 3.9 0 1 0 -7.8 0 M209.1 144.6a3.9 3.9 0 1 0 7.8 0a3.9 3.9 0 1 0 -7.8 0 M260.1 132.4a3.9 3.9 0 1 0 7.8 0a3.9 3.9 0 1 0 -7.8 0 M292.1 142.0a3.9 3.9 0 1 0 7.8 0a3.9 3.9 0 1 0 -7.8 0 M282.1 146.0a3.9 3.9 0 1 0 7.8 0a3.9 3.9 0 1 0 -7.8 0 M196.1 156.0a3.9 3.9 0 1 0 7.8 0a3.9 3.9 0 1 0 -7.8 0 M261.5 158.4a3.9 3.9 0 1 0 7.8 0a3.9 3.9 0 1 0 -7.8 0 M246.1 163.4a3.9 3.9 0 1 0 7.8 0a3.9 3.9 0 1 0 -7.8 0 M287.1 162.0a3.9 3.9 0 1 0 7.8 0a3.9 3.9 0 1 0 -7.8 0 M315.1 167.0a3.9 3.9 0 1 0 7.8 0a3.9 3.9 0 1 0 -7.8 0 M222.1 172.6a3.9 3.9 0 1 0 7.8 0a3.9 3.9 0 1 0 -7.8 0 M285.5 179.0a3.9 3.9 0 1 0 7.8 0a3.9 3.9 0 1 0 -7.8 0 M306.1 176.6a3.9 3.9 0 1 0 7.8 0a3.9 3.9 0 1 0 -7.8 0 M371.5 67.0a3.9 3.9 0 1 0 7.8 0a3.9 3.9 0 1 0 -7.8 0 M350.1 79.6a3.9 3.9 0 1 0 7.8 0a3.9 3.9 0 1 0 -7.8 0 M388.5 78.4a3.9 3.9 0 1 0 7.8 0a3.9 3.9 0 1 0 -7.8 0 M407.7 74.0a3.9 3.9 0 1 0 7.8 0a3.9 3.9 0 1 0 -7.8 0 M400.1 80.0a3.9 3.9 0 1 0 7.8 0a3.9 3.9 0 1 0 -7.8 0 M409.7 80.6a3.9 3.9 0 1 0 7.8 0a3.9 3.9 0 1 0 -7.8 0 M442.1 61.6a3.9 3.9 0 1 0 7.8 0a3.9 3.9 0 1 0 -7.8 0 M441.5 81.0a3.9 3.9 0 1 0 7.8 0a3.9 3.9 0 1 0 -7.8 0 M470.1 63.0a3.9 3.9 0 1 0 7.8 0a3.9 3.9 0 1 0 -7.8 0 M484.1 70.6a3.9 3.9 0 1 0 7.8 0a3.9 3.9 0 1 0 -7.8 0 M479.1 100.0a3.9 3.9 0 1 0 7.8 0a3.9 3.9 0 1 0 -7.8 0 M390.1 109.0a3.9 3.9 0 1 0 7.8 0a3.9 3.9 0 1 0 -7.8 0 M410.9 108.6a3.9 3.9 0 1 0 7.8 0a3.9 3.9 0 1 0 -7.8 0 M462.1 116.0a3.9 3.9 0 1 0 7.8 0a3.9 3.9 0 1 0 -7.8 0 M359.7 132.0a3.9 3.9 0 1 0 7.8 0a3.9 3.9 0 1 0 -7.8 0 M378.1 137.6a3.9 3.9 0 1 0 7.8 0a3.9 3.9 0 1 0 -7.8 0 M378.7 141.0a3.9 3.9 0 1 0 7.8 0a3.9 3.9 0 1 0 -7.8 0 M392.5 130.4a3.9 3.9 0 1 0 7.8 0a3.9 3.9 0 1 0 -7.8 0 M424.7 138.0a3.9 3.9 0 1 0 7.8 0a3.9 3.9 0 1 0 -7.8 0 M435.7 150.4a3.9 3.9 0 1 0 7.8 0a3.9 3.9 0 1 0 -7.8 0 M363.1 156.4a3.9 3.9 0 1 0 7.8 0a3.9 3.9 0 1 0 -7.8 0 M356.5 174.6a3.9 3.9 0 1 0 7.8 0a3.9 3.9 0 1 0 -7.8 0 M468.1 178.0a3.9 3.9 0 1 0 7.8 0a3.9 3.9 0 1 0 -7.8 0 M478.1 178.0a3.9 3.9 0 1 0 7.8 0a3.9 3.9 0 1 0 -7.8 0 M496.7 83.0a3.9 3.9 0 1 0 7.8 0a3.9 3.9 0 1 0 -7.8 0 M487.7 90.0a3.9 3.9 0 1 0 7.8 0a3.9 3.9 0 1 0 -7.8 0 M514.7 92.0a3.9 3.9 0 1 0 7.8 0a3.9 3.9 0 1 0 -7.8 0 M544.1 95.0a3.9 3.9 0 1 0 7.8 0a3.9 3.9 0 1 0 -7.8 0 M563.7 91.4a3.9 3.9 0 1 0 7.8 0a3.9 3.9 0 1 0 -7.8 0 M579.1 64.0a3.9 3.9 0 1 0 7.8 0a3.9 3.9 0 1 0 -7.8 0 M591.7 71.6a3.9 3.9 0 1 0 7.8 0a3.9 3.9 0 1 0 -7.8 0 M588.7 81.6a3.9 3.9 0 1 0 7.8 0a3.9 3.9 0 1 0 -7.8 0 M617.7 89.4a3.9 3.9 0 1 0 7.8 0a3.9 3.9 0 1 0 -7.8 0 M551.5 109.0a3.9 3.9 0 1 0 7.8 0a3.9 3.9 0 1 0 -7.8 0 M519.5 114.0a3.9 3.9 0 1 0 7.8 0a3.9 3.9 0 1 0 -7.8 0 M549.7 127.0a3.9 3.9 0 1 0 7.8 0a3.9 3.9 0 1 0 -7.8 0 M524.1 131.0a3.9 3.9 0 1 0 7.8 0a3.9 3.9 0 1 0 -7.8 0 M528.1 137.0a3.9 3.9 0 1 0 7.8 0a3.9 3.9 0 1 0 -7.8 0 M529.7 139.4a3.9 3.9 0 1 0 7.8 0a3.9 3.9 0 1 0 -7.8 0 M541.1 137.0a3.9 3.9 0 1 0 7.8 0a3.9 3.9 0 1 0 -7.8 0 M544.5 135.0a3.9 3.9 0 1 0 7.8 0a3.9 3.9 0 1 0 -7.8 0 M563.1 142.0a3.9 3.9 0 1 0 7.8 0a3.9 3.9 0 1 0 -7.8 0 M496.7 145.0a3.9 3.9 0 1 0 7.8 0a3.9 3.9 0 1 0 -7.8 0 M604.7 146.4a3.9 3.9 0 1 0 7.8 0a3.9 3.9 0 1 0 -7.8 0 M525.5 154.0a3.9 3.9 0 1 0 7.8 0a3.9 3.9 0 1 0 -7.8 0 M563.1 152.0a3.9 3.9 0 1 0 7.8 0a3.9 3.9 0 1 0 -7.8 0 M574.1 154.0a3.9 3.9 0 1 0 7.8 0a3.9 3.9 0 1 0 -7.8 0 M600.1 156.0a3.9 3.9 0 1 0 7.8 0a3.9 3.9 0 1 0 -7.8 0 M516.7 166.6a3.9 3.9 0 1 0 7.8 0a3.9 3.9 0 1 0 -7.8 0 M537.5 173.6a3.9 3.9 0 1 0 7.8 0a3.9 3.9 0 1 0 -7.8 0 M570.7 177.6a3.9 3.9 0 1 0 7.8 0a3.9 3.9 0 1 0 -7.8 0 M220.5 193.6a3.9 3.9 0 1 0 7.8 0a3.9 3.9 0 1 0 -7.8 0 M239.1 194.6a3.9 3.9 0 1 0 7.8 0a3.9 3.9 0 1 0 -7.8 0 M258.7 195.4a3.9 3.9 0 1 0 7.8 0a3.9 3.9 0 1 0 -7.8 0 M294.1 187.0a3.9 3.9 0 1 0 7.8 0a3.9 3.9 0 1 0 -7.8 0 M260.5 207.6a3.9 3.9 0 1 0 7.8 0a3.9 3.9 0 1 0 -7.8 0 M269.5 216.0a3.9 3.9 0 1 0 7.8 0a3.9 3.9 0 1 0 -7.8 0 M270.1 226.4a3.9 3.9 0 1 0 7.8 0a3.9 3.9 0 1 0 -7.8 0 M290.1 213.0a3.9 3.9 0 1 0 7.8 0a3.9 3.9 0 1 0 -7.8 0 M291.7 211.4a3.9 3.9 0 1 0 7.8 0a3.9 3.9 0 1 0 -7.8 0 M223.5 234.0a3.9 3.9 0 1 0 7.8 0a3.9 3.9 0 1 0 -7.8 0 M304.7 233.6a3.9 3.9 0 1 0 7.8 0a3.9 3.9 0 1 0 -7.8 0 M322.7 236.0a3.9 3.9 0 1 0 7.8 0a3.9 3.9 0 1 0 -7.8 0 M176.1 250.6a3.9 3.9 0 1 0 7.8 0a3.9 3.9 0 1 0 -7.8 0 M168.1 258.0a3.9 3.9 0 1 0 7.8 0a3.9 3.9 0 1 0 -7.8 0 M228.5 251.0a3.9 3.9 0 1 0 7.8 0a3.9 3.9 0 1 0 -7.8 0 M290.7 247.4a3.9 3.9 0 1 0 7.8 0a3.9 3.9 0 1 0 -7.8 0 M241.7 260.4a3.9 3.9 0 1 0 7.8 0a3.9 3.9 0 1 0 -7.8 0 M251.1 266.4a3.9 3.9 0 1 0 7.8 0a3.9 3.9 0 1 0 -7.8 0 M185.5 285.6a3.9 3.9 0 1 0 7.8 0a3.9 3.9 0 1 0 -7.8 0 M219.7 290.0a3.9 3.9 0 1 0 7.8 0a3.9 3.9 0 1 0 -7.8 0 M305.5 296.0a3.9 3.9 0 1 0 7.8 0a3.9 3.9 0 1 0 -7.8 0 M323.1 298.0a3.9 3.9 0 1 0 7.8 0a3.9 3.9 0 1 0 -7.8 0 M163.7 189.0a3.9 3.9 0 1 0 7.8 0a3.9 3.9 0 1 0 -7.8 0 M341.1 188.0a3.9 3.9 0 1 0 7.8 0a3.9 3.9 0 1 0 -7.8 0 M399.5 188.6a3.9 3.9 0 1 0 7.8 0a3.9 3.9 0 1 0 -7.8 0 M439.7 190.4a3.9 3.9 0 1 0 7.8 0a3.9 3.9 0 1 0 -7.8 0 M446.7 195.4a3.9 3.9 0 1 0 7.8 0a3.9 3.9 0 1 0 -7.8 0 M434.7 198.0a3.9 3.9 0 1 0 7.8 0a3.9 3.9 0 1 0 -7.8 0 M409.7 207.0a3.9 3.9 0 1 0 7.8 0a3.9 3.9 0 1 0 -7.8 0 M427.1 223.6a3.9 3.9 0 1 0 7.8 0a3.9 3.9 0 1 0 -7.8 0 M331.7 234.0a3.9 3.9 0 1 0 7.8 0a3.9 3.9 0 1 0 -7.8 0 M366.1 234.0a3.9 3.9 0 1 0 7.8 0a3.9 3.9 0 1 0 -7.8 0 M369.7 234.4a3.9 3.9 0 1 0 7.8 0a3.9 3.9 0 1 0 -7.8 0 M335.7 242.4a3.9 3.9 0 1 0 7.8 0a3.9 3.9 0 1 0 -7.8 0 M343.1 255.0a3.9 3.9 0 1 0 7.8 0a3.9 3.9 0 1 0 -7.8 0 M363.5 255.6a3.9 3.9 0 1 0 7.8 0a3.9 3.9 0 1 0 -7.8 0 M370.1 262.0a3.9 3.9 0 1 0 7.8 0a3.9 3.9 0 1 0 -7.8 0 M417.1 257.0a3.9 3.9 0 1 0 7.8 0a3.9 3.9 0 1 0 -7.8 0 M438.7 254.6a3.9 3.9 0 1 0 7.8 0a3.9 3.9 0 1 0 -7.8 0 M460.5 257.6a3.9 3.9 0 1 0 7.8 0a3.9 3.9 0 1 0 -7.8 0 M417.5 276.4a3.9 3.9 0 1 0 7.8 0a3.9 3.9 0 1 0 -7.8 0 M346.1 299.6a3.9 3.9 0 1 0 7.8 0a3.9 3.9 0 1 0 -7.8 0 M618.5 183.6a3.9 3.9 0 1 0 7.8 0a3.9 3.9 0 1 0 -7.8 0 M562.1 195.6a3.9 3.9 0 1 0 7.8 0a3.9 3.9 0 1 0 -7.8 0 M591.5 197.6a3.9 3.9 0 1 0 7.8 0a3.9 3.9 0 1 0 -7.8 0 M600.1 197.6a3.9 3.9 0 1 0 7.8 0a3.9 3.9 0 1 0 -7.8 0 M598.7 207.4a3.9 3.9 0 1 0 7.8 0a3.9 3.9 0 1 0 -7.8 0 M639.5 203.4a3.9 3.9 0 1 0 7.8 0a3.9 3.9 0 1 0 -7.8 0 M522.1 206.0a3.9 3.9 0 1 0 7.8 0a3.9 3.9 0 1 0 -7.8 0 M530.7 220.4a3.9 3.9 0 1 0 7.8 0a3.9 3.9 0 1 0 -7.8 0 M493.7 226.0a3.9 3.9 0 1 0 7.8 0a3.9 3.9 0 1 0 -7.8 0 M624.7 233.6a3.9 3.9 0 1 0 7.8 0a3.9 3.9 0 1 0 -7.8 0 M642.1 233.6a3.9 3.9 0 1 0 7.8 0a3.9 3.9 0 1 0 -7.8 0 M571.1 241.6a3.9 3.9 0 1 0 7.8 0a3.9 3.9 0 1 0 -7.8 0 M571.1 244.0a3.9 3.9 0 1 0 7.8 0a3.9 3.9 0 1 0 -7.8 0 M555.5 246.6a3.9 3.9 0 1 0 7.8 0a3.9 3.9 0 1 0 -7.8 0 M595.1 255.0a3.9 3.9 0 1 0 7.8 0a3.9 3.9 0 1 0 -7.8 0 M490.7 258.0a3.9 3.9 0 1 0 7.8 0a3.9 3.9 0 1 0 -7.8 0 M493.1 280.0a3.9 3.9 0 1 0 7.8 0a3.9 3.9 0 1 0 -7.8 0 M497.7 292.4a3.9 3.9 0 1 0 7.8 0a3.9 3.9 0 1 0 -7.8 0 M528.7 292.4a3.9 3.9 0 1 0 7.8 0a3.9 3.9 0 1 0 -7.8 0 M201.1 310.6a3.9 3.9 0 1 0 7.8 0a3.9 3.9 0 1 0 -7.8 0 M211.1 319.4a3.9 3.9 0 1 0 7.8 0a3.9 3.9 0 1 0 -7.8 0 M212.7 323.0a3.9 3.9 0 1 0 7.8 0a3.9 3.9 0 1 0 -7.8 0 M259.1 309.6a3.9 3.9 0 1 0 7.8 0a3.9 3.9 0 1 0 -7.8 0 M281.7 319.4a3.9 3.9 0 1 0 7.8 0a3.9 3.9 0 1 0 -7.8 0 M256.7 330.4a3.9 3.9 0 1 0 7.8 0a3.9 3.9 0 1 0 -7.8 0 M190.1 335.6a3.9 3.9 0 1 0 7.8 0a3.9 3.9 0 1 0 -7.8 0 M183.1 335.4a3.9 3.9 0 1 0 7.8 0a3.9 3.9 0 1 0 -7.8 0 M181.1 338.6a3.9 3.9 0 1 0 7.8 0a3.9 3.9 0 1 0 -7.8 0 M178.7 340.0a3.9 3.9 0 1 0 7.8 0a3.9 3.9 0 1 0 -7.8 0 M196.7 347.4a3.9 3.9 0 1 0 7.8 0a3.9 3.9 0 1 0 -7.8 0 M324.1 338.6a3.9 3.9 0 1 0 7.8 0a3.9 3.9 0 1 0 -7.8 0 M266.7 354.0a3.9 3.9 0 1 0 7.8 0a3.9 3.9 0 1 0 -7.8 0 M299.1 353.0a3.9 3.9 0 1 0 7.8 0a3.9 3.9 0 1 0 -7.8 0 M181.1 362.6a3.9 3.9 0 1 0 7.8 0a3.9 3.9 0 1 0 -7.8 0 M224.7 365.0a3.9 3.9 0 1 0 7.8 0a3.9 3.9 0 1 0 -7.8 0 M210.5 371.4a3.9 3.9 0 1 0 7.8 0a3.9 3.9 0 1 0 -7.8 0 M227.7 372.6a3.9 3.9 0 1 0 7.8 0a3.9 3.9 0 1 0 -7.8 0 M315.7 364.6a3.9 3.9 0 1 0 7.8 0a3.9 3.9 0 1 0 -7.8 0 M322.1 380.0a3.9 3.9 0 1 0 7.8 0a3.9 3.9 0 1 0 -7.8 0 M252.7 386.4a3.9 3.9 0 1 0 7.8 0a3.9 3.9 0 1 0 -7.8 0 M315.7 392.0a3.9 3.9 0 1 0 7.8 0a3.9 3.9 0 1 0 -7.8 0 M305.5 406.0a3.9 3.9 0 1 0 7.8 0a3.9 3.9 0 1 0 -7.8 0 M198.1 417.6a3.9 3.9 0 1 0 7.8 0a3.9 3.9 0 1 0 -7.8 0 M221.1 418.0a3.9 3.9 0 1 0 7.8 0a3.9 3.9 0 1 0 -7.8 0 M248.5 417.6a3.9 3.9 0 1 0 7.8 0a3.9 3.9 0 1 0 -7.8 0 M323.1 301.0a3.9 3.9 0 1 0 7.8 0a3.9 3.9 0 1 0 -7.8 0 M354.7 312.6a3.9 3.9 0 1 0 7.8 0a3.9 3.9 0 1 0 -7.8 0 M349.5 326.6a3.9 3.9 0 1 0 7.8 0a3.9 3.9 0 1 0 -7.8 0 M399.5 325.6a3.9 3.9 0 1 0 7.8 0a3.9 3.9 0 1 0 -7.8 0 M410.5 320.0a3.9 3.9 0 1 0 7.8 0a3.9 3.9 0 1 0 -7.8 0 M439.5 314.4a3.9 3.9 0 1 0 7.8 0a3.9 3.9 0 1 0 -7.8 0 M430.1 325.4a3.9 3.9 0 1 0 7.8 0a3.9 3.9 0 1 0 -7.8 0 M475.1 306.6a3.9 3.9 0 1 0 7.8 0a3.9 3.9 0 1 0 -7.8 0 M475.7 309.0a3.9 3.9 0 1 0 7.8 0a3.9 3.9 0 1 0 -7.8 0 M472.7 333.6a3.9 3.9 0 1 0 7.8 0a3.9 3.9 0 1 0 -7.8 0 M484.7 331.0a3.9 3.9 0 1 0 7.8 0a3.9 3.9 0 1 0 -7.8 0 M455.1 333.4a3.9 3.9 0 1 0 7.8 0a3.9 3.9 0 1 0 -7.8 0 M402.7 342.4a3.9 3.9 0 1 0 7.8 0a3.9 3.9 0 1 0 -7.8 0 M454.1 365.0a3.9 3.9 0 1 0 7.8 0a3.9 3.9 0 1 0 -7.8 0 M348.1 372.4a3.9 3.9 0 1 0 7.8 0a3.9 3.9 0 1 0 -7.8 0 M346.5 376.4a3.9 3.9 0 1 0 7.8 0a3.9 3.9 0 1 0 -7.8 0 M334.1 379.0a3.9 3.9 0 1 0 7.8 0a3.9 3.9 0 1 0 -7.8 0 M404.1 392.0a3.9 3.9 0 1 0 7.8 0a3.9 3.9 0 1 0 -7.8 0 M407.5 410.4a3.9 3.9 0 1 0 7.8 0a3.9 3.9 0 1 0 -7.8 0 M467.1 410.4a3.9 3.9 0 1 0 7.8 0a3.9 3.9 0 1 0 -7.8 0 M580.5 310.0a3.9 3.9 0 1 0 7.8 0a3.9 3.9 0 1 0 -7.8 0 M641.7 307.0a3.9 3.9 0 1 0 7.8 0a3.9 3.9 0 1 0 -7.8 0 M494.7 330.4a3.9 3.9 0 1 0 7.8 0a3.9 3.9 0 1 0 -7.8 0 M535.1 328.6a3.9 3.9 0 1 0 7.8 0a3.9 3.9 0 1 0 -7.8 0 M539.7 338.4a3.9 3.9 0 1 0 7.8 0a3.9 3.9 0 1 0 -7.8 0 M639.5 330.0a3.9 3.9 0 1 0 7.8 0a3.9 3.9 0 1 0 -7.8 0 M625.1 345.6a3.9 3.9 0 1 0 7.8 0a3.9 3.9 0 1 0 -7.8 0 M628.7 345.0a3.9 3.9 0 1 0 7.8 0a3.9 3.9 0 1 0 -7.8 0 M638.5 343.0a3.9 3.9 0 1 0 7.8 0a3.9 3.9 0 1 0 -7.8 0 M495.7 352.6a3.9 3.9 0 1 0 7.8 0a3.9 3.9 0 1 0 -7.8 0 M490.1 357.0a3.9 3.9 0 1 0 7.8 0a3.9 3.9 0 1 0 -7.8 0 M574.1 350.4a3.9 3.9 0 1 0 7.8 0a3.9 3.9 0 1 0 -7.8 0 M571.7 359.0a3.9 3.9 0 1 0 7.8 0a3.9 3.9 0 1 0 -7.8 0 M599.1 363.0a3.9 3.9 0 1 0 7.8 0a3.9 3.9 0 1 0 -7.8 0 M606.7 360.0a3.9 3.9 0 1 0 7.8 0a3.9 3.9 0 1 0 -7.8 0 M611.7 363.0a3.9 3.9 0 1 0 7.8 0a3.9 3.9 0 1 0 -7.8 0 M634.1 361.0a3.9 3.9 0 1 0 7.8 0a3.9 3.9 0 1 0 -7.8 0 M500.5 391.6a3.9 3.9 0 1 0 7.8 0a3.9 3.9 0 1 0 -7.8 0 M513.1 406.4a3.9 3.9 0 1 0 7.8 0a3.9 3.9 0 1 0 -7.8 0 M614.7 409.4a3.9 3.9 0 1 0 7.8 0a3.9 3.9 0 1 0 -7.8 0 M627.7 415.4a3.9 3.9 0 1 0 7.8 0a3.9 3.9 0 1 0 -7.8 0 M175.7 429.4a3.9 3.9 0 1 0 7.8 0a3.9 3.9 0 1 0 -7.8 0 M214.1 438.0a3.9 3.9 0 1 0 7.8 0a3.9 3.9 0 1 0 -7.8 0 M219.7 449.0a3.9 3.9 0 1 0 7.8 0a3.9 3.9 0 1 0 -7.8 0 M294.1 441.0a3.9 3.9 0 1 0 7.8 0a3.9 3.9 0 1 0 -7.8 0 M265.1 455.0a3.9 3.9 0 1 0 7.8 0a3.9 3.9 0 1 0 -7.8 0 M317.1 457.4a3.9 3.9 0 1 0 7.8 0a3.9 3.9 0 1 0 -7.8 0 M222.7 464.4a3.9 3.9 0 1 0 7.8 0a3.9 3.9 0 1 0 -7.8 0 M300.1 466.0a3.9 3.9 0 1 0 7.8 0a3.9 3.9 0 1 0 -7.8 0 M325.1 476.0a3.9 3.9 0 1 0 7.8 0a3.9 3.9 0 1 0 -7.8 0 M197.7 488.0a3.9 3.9 0 1 0 7.8 0a3.9 3.9 0 1 0 -7.8 0 M201.5 492.0a3.9 3.9 0 1 0 7.8 0a3.9 3.9 0 1 0 -7.8 0 M222.5 489.0a3.9 3.9 0 1 0 7.8 0a3.9 3.9 0 1 0 -7.8 0 M248.1 487.6a3.9 3.9 0 1 0 7.8 0a3.9 3.9 0 1 0 -7.8 0 M257.1 488.4a3.9 3.9 0 1 0 7.8 0a3.9 3.9 0 1 0 -7.8 0 M281.1 489.4a3.9 3.9 0 1 0 7.8 0a3.9 3.9 0 1 0 -7.8 0 M251.1 498.0a3.9 3.9 0 1 0 7.8 0a3.9 3.9 0 1 0 -7.8 0 M292.5 499.6a3.9 3.9 0 1 0 7.8 0a3.9 3.9 0 1 0 -7.8 0 M299.1 508.0a3.9 3.9 0 1 0 7.8 0a3.9 3.9 0 1 0 -7.8 0 M271.5 509.6a3.9 3.9 0 1 0 7.8 0a3.9 3.9 0 1 0 -7.8 0 M254.1 516.4a3.9 3.9 0 1 0 7.8 0a3.9 3.9 0 1 0 -7.8 0 M217.1 518.6a3.9 3.9 0 1 0 7.8 0a3.9 3.9 0 1 0 -7.8 0 M299.5 523.4a3.9 3.9 0 1 0 7.8 0a3.9 3.9 0 1 0 -7.8 0 M249.5 529.0a3.9 3.9 0 1 0 7.8 0a3.9 3.9 0 1 0 -7.8 0 M384.1 423.4a3.9 3.9 0 1 0 7.8 0a3.9 3.9 0 1 0 -7.8 0 M391.1 434.4a3.9 3.9 0 1 0 7.8 0a3.9 3.9 0 1 0 -7.8 0 M397.7 437.4a3.9 3.9 0 1 0 7.8 0a3.9 3.9 0 1 0 -7.8 0 M392.7 444.0a3.9 3.9 0 1 0 7.8 0a3.9 3.9 0 1 0 -7.8 0 M358.1 441.4a3.9 3.9 0 1 0 7.8 0a3.9 3.9 0 1 0 -7.8 0 M425.5 448.4a3.9 3.9 0 1 0 7.8 0a3.9 3.9 0 1 0 -7.8 0 M435.7 445.0a3.9 3.9 0 1 0 7.8 0a3.9 3.9 0 1 0 -7.8 0 M456.1 453.0a3.9 3.9 0 1 0 7.8 0a3.9 3.9 0 1 0 -7.8 0 M459.7 453.0a3.9 3.9 0 1 0 7.8 0a3.9 3.9 0 1 0 -7.8 0 M383.1 457.0a3.9 3.9 0 1 0 7.8 0a3.9 3.9 0 1 0 -7.8 0 M475.1 479.6a3.9 3.9 0 1 0 7.8 0a3.9 3.9 0 1 0 -7.8 0 M394.1 494.4a3.9 3.9 0 1 0 7.8 0a3.9 3.9 0 1 0 -7.8 0 M378.1 503.6a3.9 3.9 0 1 0 7.8 0a3.9 3.9 0 1 0 -7.8 0 M390.5 503.6a3.9 3.9 0 1 0 7.8 0a3.9 3.9 0 1 0 -7.8 0 M353.5 506.0a3.9 3.9 0 1 0 7.8 0a3.9 3.9 0 1 0 -7.8 0 M405.5 510.4a3.9 3.9 0 1 0 7.8 0a3.9 3.9 0 1 0 -7.8 0 M445.7 512.6a3.9 3.9 0 1 0 7.8 0a3.9 3.9 0 1 0 -7.8 0 M482.1 504.0a3.9 3.9 0 1 0 7.8 0a3.9 3.9 0 1 0 -7.8 0 M333.1 523.6a3.9 3.9 0 1 0 7.8 0a3.9 3.9 0 1 0 -7.8 0 M367.1 523.4a3.9 3.9 0 1 0 7.8 0a3.9 3.9 0 1 0 -7.8 0 M331.1 533.4a3.9 3.9 0 1 0 7.8 0a3.9 3.9 0 1 0 -7.8 0 M434.7 528.4a3.9 3.9 0 1 0 7.8 0a3.9 3.9 0 1 0 -7.8 0 M365.1 538.0a3.9 3.9 0 1 0 7.8 0a3.9 3.9 0 1 0 -7.8 0 M453.1 539.6a3.9 3.9 0 1 0 7.8 0a3.9 3.9 0 1 0 -7.8 0 M529.5 428.6a3.9 3.9 0 1 0 7.8 0a3.9 3.9 0 1 0 -7.8 0 M552.1 432.0a3.9 3.9 0 1 0 7.8 0a3.9 3.9 0 1 0 -7.8 0 M568.1 438.6a3.9 3.9 0 1 0 7.8 0a3.9 3.9 0 1 0 -7.8 0 M609.7 436.6a3.9 3.9 0 1 0 7.8 0a3.9 3.9 0 1 0 -7.8 0 M522.1 444.4a3.9 3.9 0 1 0 7.8 0a3.9 3.9 0 1 0 -7.8 0 M522.5 446.0a3.9 3.9 0 1 0 7.8 0a3.9 3.9 0 1 0 -7.8 0 M501.1 459.4a3.9 3.9 0 1 0 7.8 0a3.9 3.9 0 1 0 -7.8 0 M501.9 460.2a3.9 3.9 0 1 0 7.8 0a3.9 3.9 0 1 0 -7.8 0 M529.5 465.6a3.9 3.9 0 1 0 7.8 0a3.9 3.9 0 1 0 -7.8 0 M553.7 461.4a3.9 3.9 0 1 0 7.8 0a3.9 3.9 0 1 0 -7.8 0 M594.7 463.0a3.9 3.9 0 1 0 7.8 0a3.9 3.9 0 1 0 -7.8 0 M632.7 461.0a3.9 3.9 0 1 0 7.8 0a3.9 3.9 0 1 0 -7.8 0 M641.5 453.6a3.9 3.9 0 1 0 7.8 0a3.9 3.9 0 1 0 -7.8 0 M514.1 471.0a3.9 3.9 0 1 0 7.8 0a3.9 3.9 0 1 0 -7.8 0 M500.1 476.6a3.9 3.9 0 1 0 7.8 0a3.9 3.9 0 1 0 -7.8 0 M603.5 478.4a3.9 3.9 0 1 0 7.8 0a3.9 3.9 0 1 0 -7.8 0 M593.1 487.0a3.9 3.9 0 1 0 7.8 0a3.9 3.9 0 1 0 -7.8 0 M628.1 481.4a3.9 3.9 0 1 0 7.8 0a3.9 3.9 0 1 0 -7.8 0 M534.7 490.4a3.9 3.9 0 1 0 7.8 0a3.9 3.9 0 1 0 -7.8 0 M552.1 494.0a3.9 3.9 0 1 0 7.8 0a3.9 3.9 0 1 0 -7.8 0 M626.7 492.0a3.9 3.9 0 1 0 7.8 0a3.9 3.9 0 1 0 -7.8 0 M626.7 496.0a3.9 3.9 0 1 0 7.8 0a3.9 3.9 0 1 0 -7.8 0 M565.5 518.0a3.9 3.9 0 1 0 7.8 0a3.9 3.9 0 1 0 -7.8 0 M519.5 528.4a3.9 3.9 0 1 0 7.8 0a3.9 3.9 0 1 0 -7.8 0 M549.1 536.4a3.9 3.9 0 1 0 7.8 0a3.9 3.9 0 1 0 -7.8 0" fill="none" stroke="#ff0000" stroke-width="1.6"/>
<path d="M317.1 171.0a3.9 3.9 0 1 0 7.8 0a3.9 3.9 0 1 0 -7.8 0 M383.5 99.0a3.9 3.9 0 1 0 7.8 0a3.9 3.9 0 1 0 -7.8 0 M571.5 69.6a3.9 3.9 0 1 0 7.8 0a3.9 3.9 0 1 0 -7.8 0 M559.7 83.0a3.9 3.9 0 1 0 7.8 0a3.9 3.9 0 1 0 -7.8 0 M496.7 138.0a3.9 3.9 0 1 0 7.8 0a3.9 3.9 0 1 0 -7.8 0 M577.1 157.0a3.9 3.9 0 1 0 7.8 0a3.9 3.9 0 1 0 -7.8 0 M201.1 231.6a3.9 3.9 0 1 0 7.8 0a3.9 3.9 0 1 0 -7.8 0 M195.5 283.0a3.9 3.9 0 1 0 7.8 0a3.9 3.9 0 1 0 -7.8 0 M356.7 262.4a3.9 3.9 0 1 0 7.8 0a3.9 3.9 0 1 0 -7.8 0 M435.7 265.0a3.9 3.9 0 1 0 7.8 0a3.9 3.9 0 1 0 -7.8 0 M409.7 299.6a3.9 3.9 0 1 0 7.8 0a3.9 3.9 0 1 0 -7.8 0 M616.1 232.0a3.9 3.9 0 1 0 7.8 0a3.9 3.9 0 1 0 -7.8 0 M558.7 257.6a3.9 3.9 0 1 0 7.8 0a3.9 3.9 0 1 0 -7.8 0 M514.7 267.0a3.9 3.9 0 1 0 7.8 0a3.9 3.9 0 1 0 -7.8 0 M567.5 274.4a3.9 3.9 0 1 0 7.8 0a3.9 3.9 0 1 0 -7.8 0 M553.5 292.6a3.9 3.9 0 1 0 7.8 0a3.9 3.9 0 1 0 -7.8 0 M225.5 346.4a3.9 3.9 0 1 0 7.8 0a3.9 3.9 0 1 0 -7.8 0 M280.1 365.4a3.9 3.9 0 1 0 7.8 0a3.9 3.9 0 1 0 -7.8 0 M313.7 326.0a3.9 3.9 0 1 0 7.8 0a3.9 3.9 0 1 0 -7.8 0 M316.1 382.4a3.9 3.9 0 1 0 7.8 0a3.9 3.9 0 1 0 -7.8 0 M429.7 328.0a3.9 3.9 0 1 0 7.8 0a3.9 3.9 0 1 0 -7.8 0 M462.7 416.0a3.9 3.9 0 1 0 7.8 0a3.9 3.9 0 1 0 -7.8 0 M587.7 323.6a3.9 3.9 0 1 0 7.8 0a3.9 3.9 0 1 0 -7.8 0 M487.1 385.0a3.9 3.9 0 1 0 7.8 0a3.9 3.9 0 1 0 -7.8 0 M423.1 432.4a3.9 3.9 0 1 0 7.8 0a3.9 3.9 0 1 0 -7.8 0 M379.7 463.4a3.9 3.9 0 1 0 7.8 0a3.9 3.9 0 1 0 -7.8 0 M426.5 476.4a3.9 3.9 0 1 0 7.8 0a3.9 3.9 0 1 0 -7.8 0 M449.7 482.0a3.9 3.9 0 1 0 7.8 0a3.9 3.9 0 1 0 -7.8 0 M406.7 503.6a3.9 3.9 0 1 0 7.8 0a3.9 3.9 0 1 0 -7.8 0 M508.1 428.6a3.9 3.9 0 1 0 7.8 0a3.9 3.9 0 1 0 -7.8 0 M512.1 469.6a3.9 3.9 0 1 0 7.8 0a3.9 3.9 0 1 0 -7.8 0 M596.1 455.4a3.9 3.9 0 1 0 7.8 0a3.9 3.9 0 1 0 -7.8 0 M573.1 523.0a3.9 3.9 0 1 0 7.8 0a3.9 3.9 0 1 0 -7.8 0" fill="none" stroke="#0000ff" stroke-width="1.6"/>
<path d="M246.1 70.6a3.9 3.9 0 1 0 7.8 0a3.9 3.9 0 1 0 -7.8 0 M208.7 101.4a3.9 3.9 0 1 0 7.8 0a3.9 3.9 0 1 0 -7.8 0 M251.1 108.4a3.9 3.9 0 1 0 7.8 0a3.9 3.9 0 1 0 -7.8 0 M260.1 111.6a3.9 3.9 0 1 0 7.8 0a3.9 3.9 0 1 0 -7.8 0 M281.7 110.6a3.9 3.9 0 1 0 7.8 0a3.9 3.9 0 1 0 -7.8 0 M214.7 127.6a3.9 3.9 0 1 0 7.8 0a3.9 3.9 0 1 0 -7.8 0 M169.1 132.4a3.9 3.9 0 1 0 7.8 0a3.9 3.9 0 1 0 -7.8 0 M262.1 140.6a3.9 3.9 0 1 0 7.8 0a3.9 3.9 0 1 0 -7.8 0 M185.5 163.4a3.9 3.9 0 1 0 7.8 0a3.9 3.9 0 1 0 -7.8 0 M384.1 96.6a3.9 3.9 0 1 0 7.8 0a3.9 3.9 0 1 0 -7.8 0 M448.1 78.0a3.9 3.9 0 1 0 7.8 0a3.9 3.9 0 1 0 -7.8 0 M449.7 85.6a3.9 3.9 0 1 0 7.8 0a3.9 3.9 0 1 0 -7.8 0 M348.5 126.6a3.9 3.9 0 1 0 7.8 0a3.9 3.9 0 1 0 -7.8 0 M391.7 126.6a3.9 3.9 0 1 0 7.8 0a3.9 3.9 0 1 0 -7.8 0 M429.1 133.6a3.9 3.9 0 1 0 7.8 0a3.9 3.9 0 1 0 -7.8 0 M428.1 146.0a3.9 3.9 0 1 0 7.8 0a3.9 3.9 0 1 0 -7.8 0 M428.7 172.6a3.9 3.9 0 1 0 7.8 0a3.9 3.9 0 1 0 -7.8 0 M349.1 172.0a3.9 3.9 0 1 0 7.8 0a3.9 3.9 0 1 0 -7.8 0 M400.1 178.0a3.9 3.9 0 1 0 7.8 0a3.9 3.9 0 1 0 -7.8 0 M402.5 179.0a3.9 3.9 0 1 0 7.8 0a3.9 3.9 0 1 0 -7.8 0 M487.7 78.6a3.9 3.9 0 1 0 7.8 0a3.9 3.9 0 1 0 -7.8 0 M533.5 68.6a3.9 3.9 0 1 0 7.8 0a3.9 3.9 0 1 0 -7.8 0 M564.1 63.0a3.9 3.9 0 1 0 7.8 0a3.9 3.9 0 1 0 -7.8 0 M586.1 101.0a3.9 3.9 0 1 0 7.8 0a3.9 3.9 0 1 0 -7.8 0 M604.7 110.0a3.9 3.9 0 1 0 7.8 0a3.9 3.9 0 1 0 -7.8 0 M639.1 113.4a3.9 3.9 0 1 0 7.8 0a3.9 3.9 0 1 0 -7.8 0 M583.1 123.6a3.9 3.9 0 1 0 7.8 0a3.9 3.9 0 1 0 -7.8 0 M595.7 121.0a3.9 3.9 0 1 0 7.8 0a3.9 3.9 0 1 0 -7.8 0 M611.7 134.4a3.9 3.9 0 1 0 7.8 0a3.9 3.9 0 1 0 -7.8 0 M540.1 147.0a3.9 3.9 0 1 0 7.8 0a3.9 3.9 0 1 0 -7.8 0 M567.1 154.4a3.9 3.9 0 1 0 7.8 0a3.9 3.9 0 1 0 -7.8 0 M580.1 165.0a3.9 3.9 0 1 0 7.8 0a3.9 3.9 0 1 0 -7.8 0 M222.5 185.6a3.9 3.9 0 1 0 7.8 0a3.9 3.9 0 1 0 -7.8 0 M247.5 190.6a3.9 3.9 0 1 0 7.8 0a3.9 3.9 0 1 0 -7.8 0 M299.1 197.0a3.9 3.9 0 1 0 7.8 0a3.9 3.9 0 1 0 -7.8 0 M313.1 223.4a3.9 3.9 0 1 0 7.8 0a3.9 3.9 0 1 0 -7.8 0 M185.1 229.4a3.9 3.9 0 1 0 7.8 0a3.9 3.9 0 1 0 -7.8 0 M218.1 239.0a3.9 3.9 0 1 0 7.8 0a3.9 3.9 0 1 0 -7.8 0 M250.1 275.0a3.9 3.9 0 1 0 7.8 0a3.9 3.9 0 1 0 -7.8 0 M187.5 298.0a3.9 3.9 0 1 0 7.8 0a3.9 3.9 0 1 0 -7.8 0 M261.5 295.0a3.9 3.9 0 1 0 7.8 0a3.9 3.9 0 1 0 -7.8 0 M294.1 297.0a3.9 3.9 0 1 0 7.8 0a3.9 3.9 0 1 0 -7.8 0 M317.5 294.4a3.9 3.9 0 1 0 7.8 0a3.9 3.9 0 1 0 -7.8 0 M413.5 192.0a3.9 3.9 0 1 0 7.8 0a3.9 3.9 0 1 0 -7.8 0 M483.1 192.0a3.9 3.9 0 1 0 7.8 0a3.9 3.9 0 1 0 -7.8 0 M354.7 205.4a3.9 3.9 0 1 0 7.8 0a3.9 3.9 0 1 0 -7.8 0 M416.7 234.4a3.9 3.9 0 1 0 7.8 0a3.9 3.9 0 1 0 -7.8 0 M382.1 241.4a3.9 3.9 0 1 0 7.8 0a3.9 3.9 0 1 0 -7.8 0 M472.5 259.4a3.9 3.9 0 1 0 7.8 0a3.9 3.9 0 1 0 -7.8 0 M382.5 274.0a3.9 3.9 0 1 0 7.8 0a3.9 3.9 0 1 0 -7.8 0 M398.5 281.4a3.9 3.9 0 1 0 7.8 0a3.9 3.9 0 1 0 -7.8 0 M503.5 183.0a3.9 3.9 0 1 0 7.8 0a3.9 3.9 0 1 0 -7.8 0 M492.1 203.4a3.9 3.9 0 1 0 7.8 0a3.9 3.9 0 1 0 -7.8 0 M579.5 195.4a3.9 3.9 0 1 0 7.8 0a3.9 3.9 0 1 0 -7.8 0 M593.1 216.4a3.9 3.9 0 1 0 7.8 0a3.9 3.9 0 1 0 -7.8 0 M614.7 219.6a3.9 3.9 0 1 0 7.8 0a3.9 3.9 0 1 0 -7.8 0 M631.7 212.4a3.9 3.9 0 1 0 7.8 0a3.9 3.9 0 1 0 -7.8 0 M566.1 227.6a3.9 3.9 0 1 0 7.8 0a3.9 3.9 0 1 0 -7.8 0 M266.1 306.6a3.9 3.9 0 1 0 7.8 0a3.9 3.9 0 1 0 -7.8 0 M242.7 321.4a3.9 3.9 0 1 0 7.8 0a3.9 3.9 0 1 0 -7.8 0 M275.7 353.4a3.9 3.9 0 1 0 7.8 0a3.9 3.9 0 1 0 -7.8 0 M177.7 371.4a3.9 3.9 0 1 0 7.8 0a3.9 3.9 0 1 0 -7.8 0 M189.7 375.4a3.9 3.9 0 1 0 7.8 0a3.9 3.9 0 1 0 -7.8 0 M232.1 376.0a3.9 3.9 0 1 0 7.8 0a3.9 3.9 0 1 0 -7.8 0 M235.1 400.4a3.9 3.9 0 1 0 7.8 0a3.9 3.9 0 1 0 -7.8 0 M280.1 411.6a3.9 3.9 0 1 0 7.8 0a3.9 3.9 0 1 0 -7.8 0 M284.5 408.0a3.9 3.9 0 1 0 7.8 0a3.9 3.9 0 1 0 -7.8 0 M319.7 393.4a3.9 3.9 0 1 0 7.8 0a3.9 3.9 0 1 0 -7.8 0 M165.1 377.0a3.9 3.9 0 1 0 7.8 0a3.9 3.9 0 1 0 -7.8 0 M466.7 303.0a3.9 3.9 0 1 0 7.8 0a3.9 3.9 0 1 0 -7.8 0 M455.7 317.0a3.9 3.9 0 1 0 7.8 0a3.9 3.9 0 1 0 -7.8 0 M485.1 313.6a3.9 3.9 0 1 0 7.8 0a3.9 3.9 0 1 0 -7.8 0 M379.1 324.0a3.9 3.9 0 1 0 7.8 0a3.9 3.9 0 1 0 -7.8 0 M459.1 334.0a3.9 3.9 0 1 0 7.8 0a3.9 3.9 0 1 0 -7.8 0 M465.5 332.0a3.9 3.9 0 1 0 7.8 0a3.9 3.9 0 1 0 -7.8 0 M459.1 342.0a3.9 3.9 0 1 0 7.8 0a3.9 3.9 0 1 0 -7.8 0 M465.5 340.6a3.9 3.9 0 1 0 7.8 0a3.9 3.9 0 1 0 -7.8 0 M403.1 351.6a3.9 3.9 0 1 0 7.8 0a3.9 3.9 0 1 0 -7.8 0 M399.5 364.6a3.9 3.9 0 1 0 7.8 0a3.9 3.9 0 1 0 -7.8 0 M451.5 366.6a3.9 3.9 0 1 0 7.8 0a3.9 3.9 0 1 0 -7.8 0 M471.1 375.0a3.9 3.9 0 1 0 7.8 0a3.9 3.9 0 1 0 -7.8 0 M474.1 378.0a3.9 3.9 0 1 0 7.8 0a3.9 3.9 0 1 0 -7.8 0 M350.5 398.0a3.9 3.9 0 1 0 7.8 0a3.9 3.9 0 1 0 -7.8 0 M371.7 415.6a3.9 3.9 0 1 0 7.8 0a3.9 3.9 0 1 0 -7.8 0 M390.1 419.0a3.9 3.9 0 1 0 7.8 0a3.9 3.9 0 1 0 -7.8 0 M564.7 308.4a3.9 3.9 0 1 0 7.8 0a3.9 3.9 0 1 0 -7.8 0 M546.5 315.0a3.9 3.9 0 1 0 7.8 0a3.9 3.9 0 1 0 -7.8 0 M530.7 321.4a3.9 3.9 0 1 0 7.8 0a3.9 3.9 0 1 0 -7.8 0 M624.1 311.4a3.9 3.9 0 1 0 7.8 0a3.9 3.9 0 1 0 -7.8 0 M550.7 337.6a3.9 3.9 0 1 0 7.8 0a3.9 3.9 0 1 0 -7.8 0 M519.7 359.0a3.9 3.9 0 1 0 7.8 0a3.9 3.9 0 1 0 -7.8 0 M578.1 371.4a3.9 3.9 0 1 0 7.8 0a3.9 3.9 0 1 0 -7.8 0 M511.1 384.4a3.9 3.9 0 1 0 7.8 0a3.9 3.9 0 1 0 -7.8 0 M492.1 385.4a3.9 3.9 0 1 0 7.8 0a3.9 3.9 0 1 0 -7.8 0 M496.1 405.6a3.9 3.9 0 1 0 7.8 0a3.9 3.9 0 1 0 -7.8 0 M574.1 418.0a3.9 3.9 0 1 0 7.8 0a3.9 3.9 0 1 0 -7.8 0 M647.1 372.0a3.9 3.9 0 1 0 7.8 0a3.9 3.9 0 1 0 -7.8 0 M217.1 436.6a3.9 3.9 0 1 0 7.8 0a3.9 3.9 0 1 0 -7.8 0 M191.5 443.0a3.9 3.9 0 1 0 7.8 0a3.9 3.9 0 1 0 -7.8 0 M325.1 449.0a3.9 3.9 0 1 0 7.8 0a3.9 3.9 0 1 0 -7.8 0 M268.5 467.4a3.9 3.9 0 1 0 7.8 0a3.9 3.9 0 1 0 -7.8 0 M285.5 467.4a3.9 3.9 0 1 0 7.8 0a3.9 3.9 0 1 0 -7.8 0 M184.7 497.6a3.9 3.9 0 1 0 7.8 0a3.9 3.9 0 1 0 -7.8 0 M250.5 498.0a3.9 3.9 0 1 0 7.8 0a3.9 3.9 0 1 0 -7.8 0 M203.5 506.0a3.9 3.9 0 1 0 7.8 0a3.9 3.9 0 1 0 -7.8 0 M265.1 537.0a3.9 3.9 0 1 0 7.8 0a3.9 3.9 0 1 0 -7.8 0 M351.1 440.0a3.9 3.9 0 1 0 7.8 0a3.9 3.9 0 1 0 -7.8 0 M439.7 433.6a3.9 3.9 0 1 0 7.8 0a3.9 3.9 0 1 0 -7.8 0 M419.5 453.0a3.9 3.9 0 1 0 7.8 0a3.9 3.9 0 1 0 -7.8 0 M485.1 469.0a3.9 3.9 0 1 0 7.8 0a3.9 3.9 0 1 0 -7.8 0 M452.1 487.6a3.9 3.9 0 1 0 7.8 0a3.9 3.9 0 1 0 -7.8 0 M436.7 497.6a3.9 3.9 0 1 0 7.8 0a3.9 3.9 0 1 0 -7.8 0 M485.1 496.0a3.9 3.9 0 1 0 7.8 0a3.9 3.9 0 1 0 -7.8 0 M341.1 526.6a3.9 3.9 0 1 0 7.8 0a3.9 3.9 0 1 0 -7.8 0 M445.1 535.6a3.9 3.9 0 1 0 7.8 0a3.9 3.9 0 1 0 -7.8 0 M513.1 427.0a3.9 3.9 0 1 0 7.8 0a3.9 3.9 0 1 0 -7.8 0 M567.1 437.4a3.9 3.9 0 1 0 7.8 0a3.9 3.9 0 1 0 -7.8 0 M569.7 450.0a3.9 3.9 0 1 0 7.8 0a3.9 3.9 0 1 0 -7.8 0 M597.7 463.0a3.9 3.9 0 1 0 7.8 0a3.9 3.9 0 1 0 -7.8 0 M559.5 471.4a3.9 3.9 0 1 0 7.8 0a3.9 3.9 0 1 0 -7.8 0 M551.1 520.0a3.9 3.9 0 1 0 7.8 0a3.9 3.9 0 1 0 -7.8 0 M561.5 521.4a3.9 3.9 0 1 0 7.8 0a3.9 3.9 0 1 0 -7.8 0 M528.5 526.6a3.9 3.9 0 1 0 7.8 0a3.9 3.9 0 1 0 -7.8 0 M517.1 538.6a3.9 3.9 0 1 0 7.8 0a3.9 3.9 0 1 0 -7.8 0" fill="none" stroke="#ffc0cb" stroke-width="1.6"/>
<path d="M200.4 232.4h9.2M205.0 227.8v9.2 M304.0 234.0h9.2M308.6 229.4v9.2 M219.0 290.0h9.2M223.6 285.4v9.2 M224.8 347.0h9.2M229.4 342.4v9.2 M279.4 365.6h9.2M284.0 361.0v9.2 M313.0 326.0h9.2M317.6 321.4v9.2 M214.8 377.6h9.2M219.4 373.0v9.2 M429.4 328.6h9.2M434.0 324.0v9.2 M487.0 385.0h9.2M491.6 380.4v9.2 M645.4 367.0h9.2M650.0 362.4v9.2 M184.8 467.6h9.2M189.4 463.0v9.2" stroke="#008000" stroke-width="1.3" fill="none"/>
<path d="M203.0 232.4L205.0 230.4L207.0 232.4L205.0 234.4Z M306.6 234.0L308.6 232.0L310.6 234.0L308.6 236.0Z M221.6 290.0L223.6 288.0L225.6 290.0L223.6 292.0Z M227.4 347.0L229.4 345.0L231.4 347.0L229.4 349.0Z M282.0 365.6L284.0 363.6L286.0 365.6L284.0 367.6Z M315.6 326.0L317.6 324.0L319.6 326.0L317.6 328.0Z M217.4 377.6L219.4 375.6L221.4 377.6L219.4 379.6Z M432.0 328.6L434.0 326.6L436.0 328.6L434.0 330.6Z M489.6 385.0L491.6 383.0L493.6 385.0L491.6 387.0Z M648.0 367.0L650.0 365.0L652.0 367.0L650.0 369.0Z M187.4 467.6L189.4 465.6L191.4 467.6L189.4 469.6Z" fill="#008000"/>
<path d="M432.00 145.40L433.18 148.78L436.76 148.85L433.90 151.02L434.94 154.45L432.00 152.40L429.06 154.45L430.10 151.02L427.24 148.85L430.82 148.78Z M580.60 267.40L581.78 270.78L585.36 270.85L582.50 273.02L583.54 276.45L580.60 274.40L577.66 276.45L578.70 273.02L575.84 270.85L579.42 270.78Z M254.40 363.40L255.58 366.78L259.16 366.85L256.30 369.02L257.34 372.45L254.40 370.40L251.46 372.45L252.50 369.02L249.64 366.85L253.22 366.78Z M491.00 388.60L492.18 391.98L495.76 392.05L492.90 394.22L493.94 397.65L491.00 395.60L488.06 397.65L489.10 394.22L486.24 392.05L489.82 391.98Z" fill="#ffff00"/>
<circle cx="432.0" cy="150.4" r="0.9" fill="#fff" opacity="0.85"/><circle cx="580.6" cy="272.4" r="0.9" fill="#fff" opacity="0.85"/><circle cx="254.4" cy="368.4" r="0.9" fill="#fff" opacity="0.85"/><circle cx="491.0" cy="393.6" r="0.9" fill="#fff" opacity="0.85"/>
</g>
<path d="M178.5 541v-6 M198.5 541v-6 M218.5 541v-6 M238.5 541v-6 M259.5 541v-11 M279.5 541v-6 M299.5 541v-6 M319.5 541v-6 M339.5 541v-6 M359.5 541v-11 M379.5 541v-6 M399.5 541v-6 M420.5 541v-6 M440.5 541v-6 M460.5 541v-11 M480.5 541v-6 M500.5 541v-6 M520.5 541v-6 M540.5 541v-6 M560.5 541v-11 M581.5 541v-6 M601.5 541v-6 M621.5 541v-6 M641.5 541v-6 M176.5 60v6 M196.5 60v6 M216.5 60v6 M237.5 60v6 M257.5 60v11 M278.5 60v6 M298.5 60v6 M319.5 60v6 M339.5 60v6 M359.5 60v11 M380.5 60v6 M400.5 60v6 M421.5 60v6 M441.5 60v6 M462.5 60v11 M482.5 60v6 M502.5 60v6 M523.5 60v6 M543.5 60v6 M564.5 60v11 M584.5 60v6 M605.5 60v6 M625.5 60v6 M645.5 60v6 M170 74.5h6 M170 94.5h11 M170 115.5h6 M170 135.5h6 M170 156.5h6 M170 176.5h6 M170 197.5h11 M170 218.5h6 M170 238.5h6 M170 259.5h6 M170 279.5h6 M170 300.5h11 M170 320.5h6 M170 341.5h6 M170 362.5h6 M170 382.5h6 M170 403.5h11 M170 423.5h6 M170 444.5h6 M170 464.5h6 M170 485.5h6 M170 505.5h11 M170 526.5h6 M651 75.5h-6 M651 96.5h-11 M651 116.5h-6 M651 137.5h-6 M651 157.5h-6 M651 178.5h-6 M651 199.5h-11 M651 219.5h-6 M651 240.5h-6 M651 260.5h-6 M651 281.5h-6 M651 301.5h-11 M651 322.5h-6 M651 343.5h-6 M651 363.5h-6 M651 384.5h-6 M651 404.5h-11 M651 425.5h-6 M651 446.5h-6 M651 466.5h-6 M651 487.5h-6 M651 507.5h-11 M651 528.5h-6" stroke="#fff" stroke-width="1" fill="none"/>
<rect x="170.5" y="60.5" width="480" height="480" fill="none" stroke="#000" stroke-width="1.2"/>
</svg>
<div class="t" style="right:635.5px;top:84.4px">-60.3000<span class="d">°</span></div>
<div class="t" style="right:635.5px;top:187.5px">-60.4000<span class="d">°</span></div>
<div class="t" style="right:635.5px;top:290.5px">-60.5000<span class="d">°</span></div>
<div class="t" style="right:635.5px;top:393.5px">-60.6000<span class="d">°</span></div>
<div class="t" style="right:635.5px;top:496.0px">-60.7000<span class="d">°</span></div>
<div class="t" style="left:226.0px;top:544px">47.8000<span class="d">°</span></div>
<div class="t" style="left:326.5px;top:544px">47.6000<span class="d">°</span></div>
<div class="t" style="left:426.5px;top:544px">47.4000<span class="d">°</span></div>
<div class="t" style="left:527.5px;top:544px">47.2000<span class="d">°</span></div>
<div class="t" style="left:367.5px;top:564.5px">RA (J2000)</div>
<div class="t" style="left:68.5px;top:347px;font-size:17.5px;transform-origin:0 0;rotate:-90deg">Dec (J2000)</div>
</body></html>
